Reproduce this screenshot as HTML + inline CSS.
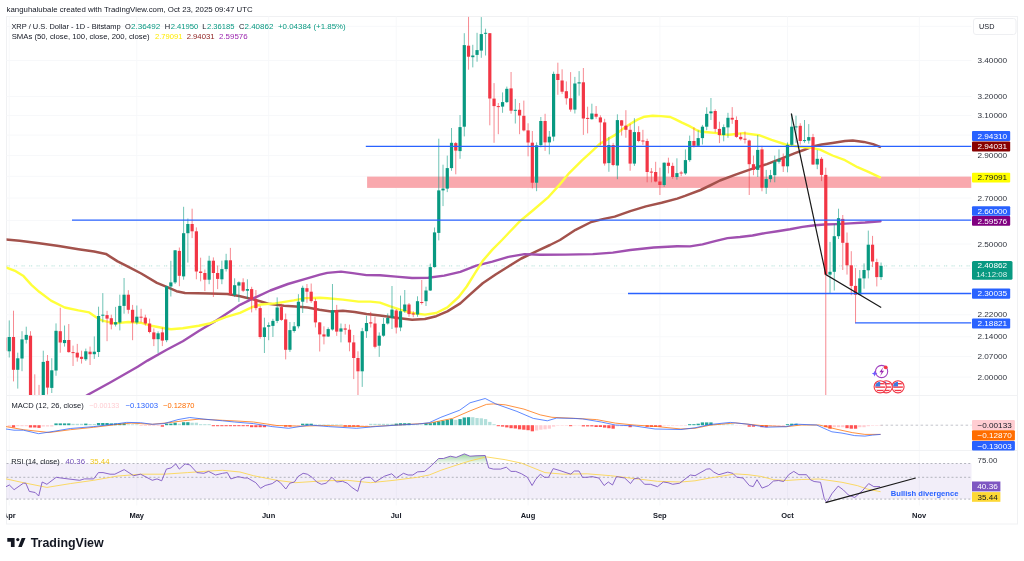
<!DOCTYPE html>
<html><head><meta charset="utf-8"><style>
html,body{margin:0;padding:0;background:#fff;width:1024px;height:561px;overflow:hidden}
svg{display:block;will-change:transform}
text{font-family:"Liberation Sans", sans-serif}
</style></head><body>
<svg width="1024" height="561" viewBox="0 0 1024 561">
<rect x="6.5" y="16.5" width="1011.0" height="507.5" fill="none" stroke="#F0F1F3" stroke-width="1"/>
<line x1="9.2" y1="16.5" x2="9.2" y2="505.5" stroke="#F7F8FA" stroke-width="1"/>
<line x1="136.8" y1="16.5" x2="136.8" y2="505.5" stroke="#F7F8FA" stroke-width="1"/>
<line x1="268.7" y1="16.5" x2="268.7" y2="505.5" stroke="#F7F8FA" stroke-width="1"/>
<line x1="396.2" y1="16.5" x2="396.2" y2="505.5" stroke="#F7F8FA" stroke-width="1"/>
<line x1="528.1" y1="16.5" x2="528.1" y2="505.5" stroke="#F7F8FA" stroke-width="1"/>
<line x1="659.9" y1="16.5" x2="659.9" y2="505.5" stroke="#F7F8FA" stroke-width="1"/>
<line x1="787.5" y1="16.5" x2="787.5" y2="505.5" stroke="#F7F8FA" stroke-width="1"/>
<line x1="919.3" y1="16.5" x2="919.3" y2="505.5" stroke="#F7F8FA" stroke-width="1"/>
<line x1="6.5" y1="26.3" x2="971.5" y2="26.3" stroke="#F7F8FA" stroke-width="1"/>
<line x1="6.5" y1="60.5" x2="971.5" y2="60.5" stroke="#F7F8FA" stroke-width="1"/>
<line x1="6.5" y1="96.6" x2="971.5" y2="96.6" stroke="#F7F8FA" stroke-width="1"/>
<line x1="6.5" y1="115.6" x2="971.5" y2="115.6" stroke="#F7F8FA" stroke-width="1"/>
<line x1="6.5" y1="135.1" x2="971.5" y2="135.1" stroke="#F7F8FA" stroke-width="1"/>
<line x1="6.5" y1="155.4" x2="971.5" y2="155.4" stroke="#F7F8FA" stroke-width="1"/>
<line x1="6.5" y1="176.3" x2="971.5" y2="176.3" stroke="#F7F8FA" stroke-width="1"/>
<line x1="6.5" y1="198.0" x2="971.5" y2="198.0" stroke="#F7F8FA" stroke-width="1"/>
<line x1="6.5" y1="220.6" x2="971.5" y2="220.6" stroke="#F7F8FA" stroke-width="1"/>
<line x1="6.5" y1="244.0" x2="971.5" y2="244.0" stroke="#F7F8FA" stroke-width="1"/>
<line x1="6.5" y1="268.3" x2="971.5" y2="268.3" stroke="#F7F8FA" stroke-width="1"/>
<line x1="6.5" y1="293.7" x2="971.5" y2="293.7" stroke="#F7F8FA" stroke-width="1"/>
<line x1="6.5" y1="314.8" x2="971.5" y2="314.8" stroke="#F7F8FA" stroke-width="1"/>
<line x1="6.5" y1="336.8" x2="971.5" y2="336.8" stroke="#F7F8FA" stroke-width="1"/>
<line x1="6.5" y1="356.6" x2="971.5" y2="356.6" stroke="#F7F8FA" stroke-width="1"/>
<line x1="6.5" y1="377.1" x2="971.5" y2="377.1" stroke="#F7F8FA" stroke-width="1"/>
<line x1="6.5" y1="395.5" x2="1017.5" y2="395.5" stroke="#F1F2F4" stroke-width="1"/>
<line x1="6.5" y1="450.5" x2="1017.5" y2="450.5" stroke="#F1F2F4" stroke-width="1"/>
<clipPath id="cm"><rect x="6.5" y="16.5" width="965.0" height="378.5"/></clipPath>
<g clip-path="url(#cm)">
<rect x="367.1" y="176.6" width="604.4" height="11.3" fill="#F9A8AD"/>
<line x1="6.5" y1="265.9" x2="971.5" y2="265.9" stroke="#089981" stroke-opacity="0.3" stroke-width="1" stroke-dasharray="1.2 0.8 1.2 4.3"/>
<polyline points="5.9,239.4 19.6,240.8 39.2,243.3 58.8,246.1 78.4,249.2 94.1,251.6 105.9,253.9 117.6,261.4 127.5,266.3 141.2,273.5 156.9,282.9 166.7,286.9 176.5,291.2 185.0,292.9 209.6,293.6 227.3,294.0 239.0,296.0 254.7,299.7 268.4,303.7 284.1,305.7 295.9,306.6 307.6,307.6 319.4,309.8 331.2,311.4 342.9,310.8 354.7,312.0 366.5,313.9 380.0,315.4 396.0,317.8 412.1,319.8 424.9,319.0 436.2,316.2 447.4,311.4 460.3,303.4 469.9,294.6 482.7,283.3 495.6,274.5 508.4,266.5 521.3,258.5 540.0,249.6 550.0,245.0 560.0,240.0 575.6,229.8 591.2,222.0 603.8,218.9 614.7,216.6 630.3,211.1 645.9,206.4 661.6,202.8 677.2,198.6 685.0,195.9 700.6,190.0 710.0,185.5 720.0,180.5 735.6,174.7 751.2,169.1 766.9,164.1 782.5,158.1 795.0,153.1 804.4,149.7 813.8,146.1 821.6,144.5 832.5,143.0 845.0,141.1 852.8,140.6 863.8,141.9 873.1,144.1 880.0,146.9" fill="none" stroke="#A3524C" stroke-width="2.5" stroke-linejoin="round" stroke-linecap="round"/>
<polyline points="86.0,396.0 88.3,394.5 110.6,382.3 137.7,366.7 147.5,360.6 166.7,349.7 182.8,341.2 198.8,331.0 214.9,321.4 240.0,304.8 252.7,298.7 270.3,290.5 287.9,284.0 305.5,278.8 320.0,274.6 327.3,272.9 341.0,271.6 352.7,273.1 366.5,275.1 380.0,275.3 396.0,276.6 412.1,278.0 428.2,277.7 444.2,275.6 460.3,271.8 476.3,265.7 492.4,261.7 508.4,256.9 524.5,254.1 540.0,254.8 565.4,254.6 592.8,254.1 612.8,252.6 630.3,250.0 653.8,247.5 677.2,246.2 690.0,246.4 702.5,244.4 715.0,241.2 727.5,238.1 740.0,237.0 752.5,235.5 765.0,233.1 777.5,231.2 790.0,229.2 802.5,226.9 815.0,225.3 824.4,224.5 836.9,224.1 850.0,223.4 865.0,222.5 880.5,221.2" fill="none" stroke="#A050B0" stroke-width="2.4" stroke-linejoin="round" stroke-linecap="round"/>
<polyline points="5.9,267.3 15.7,271.2 23.5,276.1 31.4,284.9 39.2,291.8 51.0,300.6 64.7,307.5 78.4,310.4 89.2,312.4 96.1,317.3 102.5,320.7 114.7,323.4 128.2,322.0 140.4,322.7 151.2,325.7 164.6,328.3 171.0,329.2 182.8,328.3 198.8,325.7 209.5,323.5 225.6,317.1 240.0,312.8 252.7,306.9 260.9,304.5 275.0,303.4 293.8,300.4 305.5,298.1 320.0,297.7 327.3,298.3 342.9,299.6 358.6,301.6 370.4,301.6 380.0,302.6 389.6,306.1 400.9,309.8 412.1,313.0 424.9,314.6 436.2,313.0 447.4,307.4 458.7,297.0 466.7,286.5 474.7,273.7 482.7,260.9 492.4,249.6 502.0,240.0 509.8,231.7 520.0,221.2 532.8,210.5 547.8,197.7 558.5,185.9 569.2,173.1 582.0,160.3 592.7,150.6 600.0,143.7 607.0,139.6 615.2,134.9 623.4,128.4 630.5,123.8 637.5,119.6 644.5,116.7 652.7,115.8 660.9,116.1 670.3,117.0 675.0,119.1 682.0,122.6 689.0,125.9 696.1,129.8 700.8,131.7 707.8,132.2 717.2,133.1 720.0,134.4 729.4,134.7 743.4,133.1 759.0,135.2 771.6,139.8 785.6,144.5 798.1,146.6 810.6,147.7 820.0,149.7 832.5,155.5 845.0,160.2 857.5,167.2 868.4,171.9 880.0,177.3" fill="none" stroke="#FFFF3A" stroke-width="2.4" stroke-linejoin="round" stroke-linecap="round"/>
<line x1="5.00" y1="335.0" x2="5.00" y2="352.0" stroke="#F23645" stroke-opacity="0.62" stroke-width="0.95"/>
<rect x="3.40" y="337.4" width="3.2" height="13.3" fill="#F23645"/>
<line x1="9.25" y1="320.4" x2="9.25" y2="357.5" stroke="#089981" stroke-opacity="0.62" stroke-width="0.95"/>
<rect x="7.65" y="337.0" width="3.2" height="14.3" fill="#089981"/>
<line x1="13.50" y1="310.7" x2="13.50" y2="381.4" stroke="#F23645" stroke-opacity="0.62" stroke-width="0.95"/>
<rect x="11.90" y="337.0" width="3.2" height="32.8" fill="#F23645"/>
<line x1="17.76" y1="352.7" x2="17.76" y2="388.6" stroke="#089981" stroke-opacity="0.62" stroke-width="0.95"/>
<rect x="16.16" y="358.3" width="3.2" height="11.5" fill="#089981"/>
<line x1="22.01" y1="331.2" x2="22.01" y2="371.2" stroke="#089981" stroke-opacity="0.62" stroke-width="0.95"/>
<rect x="20.41" y="339.4" width="3.2" height="19.1" fill="#089981"/>
<line x1="26.26" y1="326.7" x2="26.26" y2="343.5" stroke="#089981" stroke-opacity="0.62" stroke-width="0.95"/>
<rect x="24.66" y="334.9" width="3.2" height="4.9" fill="#089981"/>
<line x1="30.51" y1="331.2" x2="30.51" y2="400.0" stroke="#F23645" stroke-opacity="0.62" stroke-width="0.95"/>
<rect x="28.91" y="335.7" width="3.2" height="64.3" fill="#F23645"/>
<line x1="34.77" y1="374.3" x2="34.77" y2="420.0" stroke="#F23645" stroke-opacity="0.62" stroke-width="0.95"/>
<rect x="33.17" y="398.0" width="3.2" height="22.0" fill="#F23645"/>
<line x1="39.02" y1="384.9" x2="39.02" y2="420.0" stroke="#F23645" stroke-opacity="0.62" stroke-width="0.95"/>
<rect x="37.42" y="398.0" width="3.2" height="22.0" fill="#F23645"/>
<line x1="43.27" y1="350.7" x2="43.27" y2="400.0" stroke="#089981" stroke-opacity="0.62" stroke-width="0.95"/>
<rect x="41.67" y="361.9" width="3.2" height="38.1" fill="#089981"/>
<line x1="47.52" y1="355.0" x2="47.52" y2="394.5" stroke="#F23645" stroke-opacity="0.62" stroke-width="0.95"/>
<rect x="45.92" y="360.9" width="3.2" height="26.7" fill="#F23645"/>
<line x1="51.78" y1="358.2" x2="51.78" y2="393.0" stroke="#089981" stroke-opacity="0.62" stroke-width="0.95"/>
<rect x="50.18" y="370.3" width="3.2" height="17.6" fill="#089981"/>
<line x1="56.03" y1="323.4" x2="56.03" y2="375.8" stroke="#089981" stroke-opacity="0.62" stroke-width="0.95"/>
<rect x="54.43" y="330.8" width="3.2" height="39.7" fill="#089981"/>
<line x1="60.28" y1="307.7" x2="60.28" y2="352.7" stroke="#F23645" stroke-opacity="0.62" stroke-width="0.95"/>
<rect x="58.68" y="331.2" width="3.2" height="11.3" fill="#F23645"/>
<line x1="64.54" y1="325.5" x2="64.54" y2="346.6" stroke="#089981" stroke-opacity="0.62" stroke-width="0.95"/>
<rect x="62.94" y="340.0" width="3.2" height="3.1" fill="#089981"/>
<line x1="68.79" y1="324.0" x2="68.79" y2="352.7" stroke="#F23645" stroke-opacity="0.62" stroke-width="0.95"/>
<rect x="67.19" y="340.0" width="3.2" height="12.1" fill="#F23645"/>
<line x1="73.04" y1="345.6" x2="73.04" y2="366.0" stroke="#F23645" stroke-opacity="0.62" stroke-width="0.95"/>
<rect x="71.44" y="352.1" width="3.2" height="1.0" fill="#F23645"/>
<line x1="77.29" y1="343.9" x2="77.29" y2="361.6" stroke="#F23645" stroke-opacity="0.62" stroke-width="0.95"/>
<rect x="75.69" y="352.7" width="3.2" height="4.8" fill="#F23645"/>
<line x1="81.55" y1="350.7" x2="81.55" y2="363.6" stroke="#F23645" stroke-opacity="0.62" stroke-width="0.95"/>
<rect x="79.95" y="356.8" width="3.2" height="2.1" fill="#F23645"/>
<line x1="85.80" y1="348.6" x2="85.80" y2="361.0" stroke="#089981" stroke-opacity="0.62" stroke-width="0.95"/>
<rect x="84.20" y="351.3" width="3.2" height="8.0" fill="#089981"/>
<line x1="90.05" y1="346.6" x2="90.05" y2="365.0" stroke="#F23645" stroke-opacity="0.62" stroke-width="0.95"/>
<rect x="88.45" y="351.7" width="3.2" height="2.5" fill="#F23645"/>
<line x1="94.30" y1="336.4" x2="94.30" y2="358.9" stroke="#089981" stroke-opacity="0.62" stroke-width="0.95"/>
<rect x="92.70" y="351.7" width="3.2" height="2.5" fill="#089981"/>
<line x1="98.56" y1="306.7" x2="98.56" y2="357.0" stroke="#089981" stroke-opacity="0.62" stroke-width="0.95"/>
<rect x="96.96" y="316.0" width="3.2" height="36.0" fill="#089981"/>
<line x1="102.81" y1="293.1" x2="102.81" y2="322.5" stroke="#089981" stroke-opacity="0.62" stroke-width="0.95"/>
<rect x="101.21" y="314.7" width="3.2" height="1.0" fill="#089981"/>
<line x1="107.06" y1="310.8" x2="107.06" y2="341.2" stroke="#F23645" stroke-opacity="0.62" stroke-width="0.95"/>
<rect x="105.46" y="315.1" width="3.2" height="3.5" fill="#F23645"/>
<line x1="111.31" y1="314.7" x2="111.31" y2="329.4" stroke="#F23645" stroke-opacity="0.62" stroke-width="0.95"/>
<rect x="109.71" y="318.2" width="3.2" height="6.3" fill="#F23645"/>
<line x1="115.57" y1="306.9" x2="115.57" y2="326.5" stroke="#089981" stroke-opacity="0.62" stroke-width="0.95"/>
<rect x="113.97" y="322.2" width="3.2" height="2.3" fill="#089981"/>
<line x1="119.82" y1="294.7" x2="119.82" y2="330.4" stroke="#089981" stroke-opacity="0.62" stroke-width="0.95"/>
<rect x="118.22" y="305.9" width="3.2" height="16.6" fill="#089981"/>
<line x1="124.07" y1="278.0" x2="124.07" y2="313.7" stroke="#089981" stroke-opacity="0.62" stroke-width="0.95"/>
<rect x="122.47" y="294.7" width="3.2" height="11.2" fill="#089981"/>
<line x1="128.33" y1="290.2" x2="128.33" y2="313.7" stroke="#F23645" stroke-opacity="0.62" stroke-width="0.95"/>
<rect x="126.73" y="294.7" width="3.2" height="15.1" fill="#F23645"/>
<line x1="132.58" y1="304.9" x2="132.58" y2="340.2" stroke="#F23645" stroke-opacity="0.62" stroke-width="0.95"/>
<rect x="130.98" y="309.8" width="3.2" height="12.7" fill="#F23645"/>
<line x1="136.83" y1="305.5" x2="136.83" y2="324.5" stroke="#089981" stroke-opacity="0.62" stroke-width="0.95"/>
<rect x="135.23" y="316.7" width="3.2" height="5.8" fill="#089981"/>
<line x1="141.08" y1="308.8" x2="141.08" y2="322.5" stroke="#F23645" stroke-opacity="0.62" stroke-width="0.95"/>
<rect x="139.48" y="316.7" width="3.2" height="1.0" fill="#F23645"/>
<line x1="145.34" y1="314.7" x2="145.34" y2="325.5" stroke="#F23645" stroke-opacity="0.62" stroke-width="0.95"/>
<rect x="143.74" y="317.6" width="3.2" height="5.9" fill="#F23645"/>
<line x1="149.59" y1="318.6" x2="149.59" y2="333.3" stroke="#F23645" stroke-opacity="0.62" stroke-width="0.95"/>
<rect x="147.99" y="323.5" width="3.2" height="8.5" fill="#F23645"/>
<line x1="153.84" y1="328.4" x2="153.84" y2="346.1" stroke="#F23645" stroke-opacity="0.62" stroke-width="0.95"/>
<rect x="152.24" y="332.4" width="3.2" height="6.8" fill="#F23645"/>
<line x1="158.09" y1="331.4" x2="158.09" y2="352.9" stroke="#089981" stroke-opacity="0.62" stroke-width="0.95"/>
<rect x="156.49" y="333.3" width="3.2" height="5.9" fill="#089981"/>
<line x1="162.35" y1="327.5" x2="162.35" y2="346.1" stroke="#F23645" stroke-opacity="0.62" stroke-width="0.95"/>
<rect x="160.75" y="332.4" width="3.2" height="8.2" fill="#F23645"/>
<line x1="166.60" y1="286.0" x2="166.60" y2="342.2" stroke="#089981" stroke-opacity="0.62" stroke-width="0.95"/>
<rect x="165.00" y="286.3" width="3.2" height="53.9" fill="#089981"/>
<line x1="170.85" y1="260.8" x2="170.85" y2="296.5" stroke="#089981" stroke-opacity="0.62" stroke-width="0.95"/>
<rect x="169.25" y="282.4" width="3.2" height="4.1" fill="#089981"/>
<line x1="175.11" y1="250.0" x2="175.11" y2="284.0" stroke="#089981" stroke-opacity="0.62" stroke-width="0.95"/>
<rect x="173.51" y="250.3" width="3.2" height="32.1" fill="#089981"/>
<line x1="179.36" y1="247.5" x2="179.36" y2="286.2" stroke="#F23645" stroke-opacity="0.62" stroke-width="0.95"/>
<rect x="177.76" y="250.9" width="3.2" height="24.9" fill="#F23645"/>
<line x1="183.61" y1="206.8" x2="183.61" y2="279.7" stroke="#089981" stroke-opacity="0.62" stroke-width="0.95"/>
<rect x="182.01" y="233.2" width="3.2" height="43.2" fill="#089981"/>
<line x1="187.86" y1="218.5" x2="187.86" y2="262.6" stroke="#089981" stroke-opacity="0.62" stroke-width="0.95"/>
<rect x="186.26" y="224.0" width="3.2" height="9.2" fill="#089981"/>
<line x1="192.12" y1="208.7" x2="192.12" y2="238.1" stroke="#F23645" stroke-opacity="0.62" stroke-width="0.95"/>
<rect x="190.52" y="224.0" width="3.2" height="7.3" fill="#F23645"/>
<line x1="196.37" y1="227.4" x2="196.37" y2="279.3" stroke="#F23645" stroke-opacity="0.62" stroke-width="0.95"/>
<rect x="194.77" y="231.3" width="3.2" height="40.2" fill="#F23645"/>
<line x1="200.62" y1="257.7" x2="200.62" y2="281.3" stroke="#F23645" stroke-opacity="0.62" stroke-width="0.95"/>
<rect x="199.02" y="271.5" width="3.2" height="1.5" fill="#F23645"/>
<line x1="204.87" y1="269.5" x2="204.87" y2="291.1" stroke="#F23645" stroke-opacity="0.62" stroke-width="0.95"/>
<rect x="203.27" y="273.0" width="3.2" height="6.7" fill="#F23645"/>
<line x1="209.13" y1="255.8" x2="209.13" y2="284.2" stroke="#089981" stroke-opacity="0.62" stroke-width="0.95"/>
<rect x="207.53" y="260.7" width="3.2" height="19.0" fill="#089981"/>
<line x1="213.38" y1="257.4" x2="213.38" y2="297.0" stroke="#F23645" stroke-opacity="0.62" stroke-width="0.95"/>
<rect x="211.78" y="260.7" width="3.2" height="12.3" fill="#F23645"/>
<line x1="217.63" y1="265.6" x2="217.63" y2="289.1" stroke="#F23645" stroke-opacity="0.62" stroke-width="0.95"/>
<rect x="216.03" y="273.0" width="3.2" height="5.9" fill="#F23645"/>
<line x1="221.88" y1="260.7" x2="221.88" y2="284.2" stroke="#089981" stroke-opacity="0.62" stroke-width="0.95"/>
<rect x="220.28" y="269.1" width="3.2" height="10.2" fill="#089981"/>
<line x1="226.14" y1="253.8" x2="226.14" y2="271.5" stroke="#089981" stroke-opacity="0.62" stroke-width="0.95"/>
<rect x="224.54" y="260.3" width="3.2" height="8.8" fill="#089981"/>
<line x1="230.39" y1="247.9" x2="230.39" y2="296.0" stroke="#F23645" stroke-opacity="0.62" stroke-width="0.95"/>
<rect x="228.79" y="260.3" width="3.2" height="33.7" fill="#F23645"/>
<line x1="234.64" y1="278.3" x2="234.64" y2="297.0" stroke="#089981" stroke-opacity="0.62" stroke-width="0.95"/>
<rect x="233.04" y="285.2" width="3.2" height="9.8" fill="#089981"/>
<line x1="238.90" y1="281.3" x2="238.90" y2="301.9" stroke="#089981" stroke-opacity="0.62" stroke-width="0.95"/>
<rect x="237.30" y="282.3" width="3.2" height="3.3" fill="#089981"/>
<line x1="243.15" y1="278.3" x2="243.15" y2="292.1" stroke="#F23645" stroke-opacity="0.62" stroke-width="0.95"/>
<rect x="241.55" y="282.3" width="3.2" height="8.4" fill="#F23645"/>
<line x1="247.40" y1="279.3" x2="247.40" y2="298.9" stroke="#089981" stroke-opacity="0.62" stroke-width="0.95"/>
<rect x="245.80" y="289.1" width="3.2" height="1.6" fill="#089981"/>
<line x1="251.65" y1="286.8" x2="251.65" y2="312.4" stroke="#F23645" stroke-opacity="0.62" stroke-width="0.95"/>
<rect x="250.05" y="289.1" width="3.2" height="10.5" fill="#F23645"/>
<line x1="255.91" y1="290.0" x2="255.91" y2="310.3" stroke="#F23645" stroke-opacity="0.62" stroke-width="0.95"/>
<rect x="254.31" y="299.6" width="3.2" height="8.5" fill="#F23645"/>
<line x1="260.16" y1="306.0" x2="260.16" y2="338.7" stroke="#F23645" stroke-opacity="0.62" stroke-width="0.95"/>
<rect x="258.56" y="308.1" width="3.2" height="28.9" fill="#F23645"/>
<line x1="264.41" y1="317.7" x2="264.41" y2="353.0" stroke="#089981" stroke-opacity="0.62" stroke-width="0.95"/>
<rect x="262.81" y="327.4" width="3.2" height="9.6" fill="#089981"/>
<line x1="268.66" y1="322.4" x2="268.66" y2="340.2" stroke="#089981" stroke-opacity="0.62" stroke-width="0.95"/>
<rect x="267.06" y="325.2" width="3.2" height="1.5" fill="#089981"/>
<line x1="272.92" y1="318.8" x2="272.92" y2="337.0" stroke="#089981" stroke-opacity="0.62" stroke-width="0.95"/>
<rect x="271.32" y="320.9" width="3.2" height="5.0" fill="#089981"/>
<line x1="277.17" y1="297.4" x2="277.17" y2="323.1" stroke="#089981" stroke-opacity="0.62" stroke-width="0.95"/>
<rect x="275.57" y="307.5" width="3.2" height="13.4" fill="#089981"/>
<line x1="281.42" y1="303.8" x2="281.42" y2="320.9" stroke="#F23645" stroke-opacity="0.62" stroke-width="0.95"/>
<rect x="279.82" y="307.1" width="3.2" height="12.8" fill="#F23645"/>
<line x1="285.68" y1="313.5" x2="285.68" y2="359.4" stroke="#F23645" stroke-opacity="0.62" stroke-width="0.95"/>
<rect x="284.08" y="319.4" width="3.2" height="30.4" fill="#F23645"/>
<line x1="289.93" y1="322.0" x2="289.93" y2="351.9" stroke="#089981" stroke-opacity="0.62" stroke-width="0.95"/>
<rect x="288.33" y="330.1" width="3.2" height="19.7" fill="#089981"/>
<line x1="294.18" y1="322.0" x2="294.18" y2="332.7" stroke="#089981" stroke-opacity="0.62" stroke-width="0.95"/>
<rect x="292.58" y="326.3" width="3.2" height="4.7" fill="#089981"/>
<line x1="298.43" y1="294.2" x2="298.43" y2="328.4" stroke="#089981" stroke-opacity="0.62" stroke-width="0.95"/>
<rect x="296.83" y="301.7" width="3.2" height="24.6" fill="#089981"/>
<line x1="302.69" y1="285.7" x2="302.69" y2="313.0" stroke="#089981" stroke-opacity="0.62" stroke-width="0.95"/>
<rect x="301.09" y="287.8" width="3.2" height="13.9" fill="#089981"/>
<line x1="306.94" y1="284.0" x2="306.94" y2="302.8" stroke="#F23645" stroke-opacity="0.62" stroke-width="0.95"/>
<rect x="305.34" y="288.2" width="3.2" height="3.5" fill="#F23645"/>
<line x1="311.19" y1="283.5" x2="311.19" y2="302.8" stroke="#F23645" stroke-opacity="0.62" stroke-width="0.95"/>
<rect x="309.59" y="291.7" width="3.2" height="9.4" fill="#F23645"/>
<line x1="315.44" y1="298.5" x2="315.44" y2="327.4" stroke="#F23645" stroke-opacity="0.62" stroke-width="0.95"/>
<rect x="313.84" y="301.1" width="3.2" height="21.3" fill="#F23645"/>
<line x1="319.70" y1="322.0" x2="319.70" y2="351.5" stroke="#F23645" stroke-opacity="0.62" stroke-width="0.95"/>
<rect x="318.10" y="322.4" width="3.2" height="12.0" fill="#F23645"/>
<line x1="323.95" y1="326.3" x2="323.95" y2="344.4" stroke="#F23645" stroke-opacity="0.62" stroke-width="0.95"/>
<rect x="322.35" y="334.4" width="3.2" height="2.1" fill="#F23645"/>
<line x1="328.20" y1="327.4" x2="328.20" y2="337.0" stroke="#089981" stroke-opacity="0.62" stroke-width="0.95"/>
<rect x="326.60" y="329.1" width="3.2" height="7.4" fill="#089981"/>
<line x1="332.46" y1="284.0" x2="332.46" y2="330.6" stroke="#089981" stroke-opacity="0.62" stroke-width="0.95"/>
<rect x="330.86" y="310.3" width="3.2" height="19.2" fill="#089981"/>
<line x1="336.71" y1="304.9" x2="336.71" y2="335.9" stroke="#F23645" stroke-opacity="0.62" stroke-width="0.95"/>
<rect x="335.11" y="310.3" width="3.2" height="21.3" fill="#F23645"/>
<line x1="340.96" y1="323.5" x2="340.96" y2="342.4" stroke="#089981" stroke-opacity="0.62" stroke-width="0.95"/>
<rect x="339.36" y="328.4" width="3.2" height="3.2" fill="#089981"/>
<line x1="345.21" y1="323.9" x2="345.21" y2="334.6" stroke="#F23645" stroke-opacity="0.62" stroke-width="0.95"/>
<rect x="343.61" y="328.4" width="3.2" height="1.3" fill="#F23645"/>
<line x1="349.47" y1="324.6" x2="349.47" y2="351.3" stroke="#F23645" stroke-opacity="0.62" stroke-width="0.95"/>
<rect x="347.87" y="329.7" width="3.2" height="12.7" fill="#F23645"/>
<line x1="353.72" y1="335.0" x2="353.72" y2="379.1" stroke="#F23645" stroke-opacity="0.62" stroke-width="0.95"/>
<rect x="352.12" y="342.4" width="3.2" height="15.6" fill="#F23645"/>
<line x1="357.97" y1="351.3" x2="357.97" y2="395.0" stroke="#F23645" stroke-opacity="0.62" stroke-width="0.95"/>
<rect x="356.37" y="358.0" width="3.2" height="13.3" fill="#F23645"/>
<line x1="362.22" y1="327.9" x2="362.22" y2="386.9" stroke="#089981" stroke-opacity="0.62" stroke-width="0.95"/>
<rect x="360.62" y="331.2" width="3.2" height="40.1" fill="#089981"/>
<line x1="366.48" y1="315.7" x2="366.48" y2="337.9" stroke="#089981" stroke-opacity="0.62" stroke-width="0.95"/>
<rect x="364.88" y="323.0" width="3.2" height="8.2" fill="#089981"/>
<line x1="370.73" y1="311.9" x2="370.73" y2="327.5" stroke="#F23645" stroke-opacity="0.62" stroke-width="0.95"/>
<rect x="369.13" y="322.3" width="3.2" height="1.2" fill="#F23645"/>
<line x1="374.98" y1="316.8" x2="374.98" y2="348.4" stroke="#F23645" stroke-opacity="0.62" stroke-width="0.95"/>
<rect x="373.38" y="323.5" width="3.2" height="23.3" fill="#F23645"/>
<line x1="379.23" y1="332.4" x2="379.23" y2="356.9" stroke="#089981" stroke-opacity="0.62" stroke-width="0.95"/>
<rect x="377.63" y="335.7" width="3.2" height="10.0" fill="#089981"/>
<line x1="383.49" y1="317.9" x2="383.49" y2="336.8" stroke="#089981" stroke-opacity="0.62" stroke-width="0.95"/>
<rect x="381.89" y="323.9" width="3.2" height="11.8" fill="#089981"/>
<line x1="387.74" y1="313.4" x2="387.74" y2="324.6" stroke="#089981" stroke-opacity="0.62" stroke-width="0.95"/>
<rect x="386.14" y="317.9" width="3.2" height="5.6" fill="#089981"/>
<line x1="391.99" y1="286.0" x2="391.99" y2="329.0" stroke="#089981" stroke-opacity="0.62" stroke-width="0.95"/>
<rect x="390.39" y="309.6" width="3.2" height="8.3" fill="#089981"/>
<line x1="396.25" y1="309.0" x2="396.25" y2="333.5" stroke="#F23645" stroke-opacity="0.62" stroke-width="0.95"/>
<rect x="394.65" y="310.5" width="3.2" height="17.0" fill="#F23645"/>
<line x1="400.50" y1="295.6" x2="400.50" y2="331.2" stroke="#089981" stroke-opacity="0.62" stroke-width="0.95"/>
<rect x="398.90" y="311.2" width="3.2" height="16.3" fill="#089981"/>
<line x1="404.75" y1="290.0" x2="404.75" y2="312.8" stroke="#089981" stroke-opacity="0.62" stroke-width="0.95"/>
<rect x="403.15" y="304.5" width="3.2" height="6.7" fill="#089981"/>
<line x1="409.00" y1="303.0" x2="409.00" y2="316.8" stroke="#F23645" stroke-opacity="0.62" stroke-width="0.95"/>
<rect x="407.40" y="304.5" width="3.2" height="9.6" fill="#F23645"/>
<line x1="413.26" y1="311.2" x2="413.26" y2="317.2" stroke="#F23645" stroke-opacity="0.62" stroke-width="0.95"/>
<rect x="411.66" y="313.4" width="3.2" height="1.1" fill="#F23645"/>
<line x1="417.51" y1="296.3" x2="417.51" y2="316.8" stroke="#089981" stroke-opacity="0.62" stroke-width="0.95"/>
<rect x="415.91" y="301.2" width="3.2" height="13.3" fill="#089981"/>
<line x1="421.76" y1="280.0" x2="421.76" y2="304.5" stroke="#F23645" stroke-opacity="0.62" stroke-width="0.95"/>
<rect x="420.16" y="302.0" width="3.2" height="1.0" fill="#F23645"/>
<line x1="426.01" y1="286.7" x2="426.01" y2="306.0" stroke="#089981" stroke-opacity="0.62" stroke-width="0.95"/>
<rect x="424.41" y="290.5" width="3.2" height="10.7" fill="#089981"/>
<line x1="430.27" y1="263.6" x2="430.27" y2="291.0" stroke="#089981" stroke-opacity="0.62" stroke-width="0.95"/>
<rect x="428.67" y="267.1" width="3.2" height="23.4" fill="#089981"/>
<line x1="434.52" y1="227.5" x2="434.52" y2="267.6" stroke="#089981" stroke-opacity="0.62" stroke-width="0.95"/>
<rect x="432.92" y="232.4" width="3.2" height="34.7" fill="#089981"/>
<line x1="438.77" y1="138.7" x2="438.77" y2="240.4" stroke="#089981" stroke-opacity="0.62" stroke-width="0.95"/>
<rect x="437.17" y="190.4" width="3.2" height="42.5" fill="#089981"/>
<line x1="443.03" y1="164.7" x2="443.03" y2="206.1" stroke="#089981" stroke-opacity="0.62" stroke-width="0.95"/>
<rect x="441.43" y="188.6" width="3.2" height="1.8" fill="#089981"/>
<line x1="447.28" y1="155.6" x2="447.28" y2="192.1" stroke="#089981" stroke-opacity="0.62" stroke-width="0.95"/>
<rect x="445.68" y="168.1" width="3.2" height="20.5" fill="#089981"/>
<line x1="451.53" y1="128.0" x2="451.53" y2="170.8" stroke="#089981" stroke-opacity="0.62" stroke-width="0.95"/>
<rect x="449.93" y="142.8" width="3.2" height="25.3" fill="#089981"/>
<line x1="455.78" y1="142.0" x2="455.78" y2="174.3" stroke="#F23645" stroke-opacity="0.62" stroke-width="0.95"/>
<rect x="454.18" y="143.1" width="3.2" height="7.5" fill="#F23645"/>
<line x1="460.04" y1="115.0" x2="460.04" y2="158.8" stroke="#089981" stroke-opacity="0.62" stroke-width="0.95"/>
<rect x="458.44" y="127.1" width="3.2" height="24.0" fill="#089981"/>
<line x1="464.29" y1="33.2" x2="464.29" y2="136.4" stroke="#089981" stroke-opacity="0.62" stroke-width="0.95"/>
<rect x="462.69" y="45.1" width="3.2" height="81.6" fill="#089981"/>
<line x1="468.54" y1="16.8" x2="468.54" y2="69.7" stroke="#F23645" stroke-opacity="0.62" stroke-width="0.95"/>
<rect x="466.94" y="45.7" width="3.2" height="11.0" fill="#F23645"/>
<line x1="472.79" y1="44.8" x2="472.79" y2="67.4" stroke="#089981" stroke-opacity="0.62" stroke-width="0.95"/>
<rect x="471.19" y="55.5" width="3.2" height="1.7" fill="#089981"/>
<line x1="477.05" y1="32.8" x2="477.05" y2="61.7" stroke="#089981" stroke-opacity="0.62" stroke-width="0.95"/>
<rect x="475.45" y="50.1" width="3.2" height="4.8" fill="#089981"/>
<line x1="481.30" y1="17.1" x2="481.30" y2="57.8" stroke="#089981" stroke-opacity="0.62" stroke-width="0.95"/>
<rect x="479.70" y="34.1" width="3.2" height="16.5" fill="#089981"/>
<line x1="485.55" y1="28.7" x2="485.55" y2="55.5" stroke="#089981" stroke-opacity="0.62" stroke-width="0.95"/>
<rect x="483.95" y="32.8" width="3.2" height="1.0" fill="#089981"/>
<line x1="489.81" y1="33.0" x2="489.81" y2="125.3" stroke="#F23645" stroke-opacity="0.62" stroke-width="0.95"/>
<rect x="488.21" y="33.2" width="3.2" height="65.3" fill="#F23645"/>
<line x1="494.06" y1="83.1" x2="494.06" y2="142.8" stroke="#F23645" stroke-opacity="0.62" stroke-width="0.95"/>
<rect x="492.46" y="98.6" width="3.2" height="7.5" fill="#F23645"/>
<line x1="498.31" y1="103.0" x2="498.31" y2="134.2" stroke="#F23645" stroke-opacity="0.62" stroke-width="0.95"/>
<rect x="496.71" y="106.1" width="3.2" height="1.0" fill="#F23645"/>
<line x1="502.56" y1="92.4" x2="502.56" y2="112.8" stroke="#089981" stroke-opacity="0.62" stroke-width="0.95"/>
<rect x="500.96" y="102.1" width="3.2" height="4.5" fill="#089981"/>
<line x1="506.82" y1="86.6" x2="506.82" y2="103.0" stroke="#089981" stroke-opacity="0.62" stroke-width="0.95"/>
<rect x="505.22" y="88.8" width="3.2" height="13.3" fill="#089981"/>
<line x1="511.07" y1="72.0" x2="511.07" y2="113.7" stroke="#F23645" stroke-opacity="0.62" stroke-width="0.95"/>
<rect x="509.47" y="88.4" width="3.2" height="22.3" fill="#F23645"/>
<line x1="515.32" y1="98.9" x2="515.32" y2="123.5" stroke="#089981" stroke-opacity="0.62" stroke-width="0.95"/>
<rect x="513.72" y="109.8" width="3.2" height="1.0" fill="#089981"/>
<line x1="519.57" y1="103.0" x2="519.57" y2="134.2" stroke="#F23645" stroke-opacity="0.62" stroke-width="0.95"/>
<rect x="517.97" y="109.8" width="3.2" height="5.7" fill="#F23645"/>
<line x1="523.83" y1="100.6" x2="523.83" y2="131.4" stroke="#F23645" stroke-opacity="0.62" stroke-width="0.95"/>
<rect x="522.23" y="115.8" width="3.2" height="14.6" fill="#F23645"/>
<line x1="528.08" y1="123.3" x2="528.08" y2="156.3" stroke="#F23645" stroke-opacity="0.62" stroke-width="0.95"/>
<rect x="526.48" y="130.4" width="3.2" height="12.1" fill="#F23645"/>
<line x1="532.33" y1="131.0" x2="532.33" y2="188.4" stroke="#F23645" stroke-opacity="0.62" stroke-width="0.95"/>
<rect x="530.73" y="142.7" width="3.2" height="40.0" fill="#F23645"/>
<line x1="536.58" y1="142.4" x2="536.58" y2="191.2" stroke="#089981" stroke-opacity="0.62" stroke-width="0.95"/>
<rect x="534.98" y="145.3" width="3.2" height="37.4" fill="#089981"/>
<line x1="540.84" y1="117.0" x2="540.84" y2="147.3" stroke="#089981" stroke-opacity="0.62" stroke-width="0.95"/>
<rect x="539.24" y="121.0" width="3.2" height="24.2" fill="#089981"/>
<line x1="545.09" y1="113.8" x2="545.09" y2="150.9" stroke="#F23645" stroke-opacity="0.62" stroke-width="0.95"/>
<rect x="543.49" y="121.0" width="3.2" height="21.4" fill="#F23645"/>
<line x1="549.34" y1="131.0" x2="549.34" y2="154.4" stroke="#089981" stroke-opacity="0.62" stroke-width="0.95"/>
<rect x="547.74" y="136.7" width="3.2" height="5.7" fill="#089981"/>
<line x1="553.60" y1="71.6" x2="553.60" y2="141.2" stroke="#089981" stroke-opacity="0.62" stroke-width="0.95"/>
<rect x="552.00" y="73.9" width="3.2" height="62.7" fill="#089981"/>
<line x1="557.85" y1="62.7" x2="557.85" y2="94.8" stroke="#F23645" stroke-opacity="0.62" stroke-width="0.95"/>
<rect x="556.25" y="73.9" width="3.2" height="6.1" fill="#F23645"/>
<line x1="562.10" y1="69.3" x2="562.10" y2="93.9" stroke="#F23645" stroke-opacity="0.62" stroke-width="0.95"/>
<rect x="560.50" y="80.5" width="3.2" height="11.2" fill="#F23645"/>
<line x1="566.35" y1="81.4" x2="566.35" y2="104.6" stroke="#F23645" stroke-opacity="0.62" stroke-width="0.95"/>
<rect x="564.75" y="91.2" width="3.2" height="7.1" fill="#F23645"/>
<line x1="570.61" y1="72.1" x2="570.61" y2="111.7" stroke="#F23645" stroke-opacity="0.62" stroke-width="0.95"/>
<rect x="569.01" y="98.3" width="3.2" height="11.3" fill="#F23645"/>
<line x1="574.86" y1="76.9" x2="574.86" y2="113.5" stroke="#089981" stroke-opacity="0.62" stroke-width="0.95"/>
<rect x="573.26" y="83.5" width="3.2" height="26.1" fill="#089981"/>
<line x1="579.11" y1="71.1" x2="579.11" y2="95.7" stroke="#089981" stroke-opacity="0.62" stroke-width="0.95"/>
<rect x="577.51" y="82.3" width="3.2" height="1.2" fill="#089981"/>
<line x1="583.36" y1="68.0" x2="583.36" y2="134.9" stroke="#F23645" stroke-opacity="0.62" stroke-width="0.95"/>
<rect x="581.76" y="82.3" width="3.2" height="36.2" fill="#F23645"/>
<line x1="587.62" y1="106.7" x2="587.62" y2="133.4" stroke="#F23645" stroke-opacity="0.62" stroke-width="0.95"/>
<rect x="586.02" y="117.9" width="3.2" height="1.0" fill="#F23645"/>
<line x1="591.87" y1="103.7" x2="591.87" y2="119.7" stroke="#089981" stroke-opacity="0.62" stroke-width="0.95"/>
<rect x="590.27" y="113.5" width="3.2" height="5.7" fill="#089981"/>
<line x1="596.12" y1="106.0" x2="596.12" y2="118.8" stroke="#F23645" stroke-opacity="0.62" stroke-width="0.95"/>
<rect x="594.52" y="113.8" width="3.2" height="2.9" fill="#F23645"/>
<line x1="600.38" y1="115.3" x2="600.38" y2="145.6" stroke="#F23645" stroke-opacity="0.62" stroke-width="0.95"/>
<rect x="598.78" y="117.4" width="3.2" height="5.0" fill="#F23645"/>
<line x1="604.63" y1="118.8" x2="604.63" y2="165.6" stroke="#F23645" stroke-opacity="0.62" stroke-width="0.95"/>
<rect x="603.03" y="122.4" width="3.2" height="41.1" fill="#F23645"/>
<line x1="608.88" y1="136.9" x2="608.88" y2="171.8" stroke="#089981" stroke-opacity="0.62" stroke-width="0.95"/>
<rect x="607.28" y="145.0" width="3.2" height="18.1" fill="#089981"/>
<line x1="613.13" y1="142.9" x2="613.13" y2="166.2" stroke="#F23645" stroke-opacity="0.62" stroke-width="0.95"/>
<rect x="611.53" y="145.0" width="3.2" height="20.0" fill="#F23645"/>
<line x1="617.39" y1="114.3" x2="617.39" y2="179.2" stroke="#089981" stroke-opacity="0.62" stroke-width="0.95"/>
<rect x="615.79" y="120.1" width="3.2" height="45.4" fill="#089981"/>
<line x1="621.64" y1="120.0" x2="621.64" y2="135.6" stroke="#F23645" stroke-opacity="0.62" stroke-width="0.95"/>
<rect x="620.04" y="120.3" width="3.2" height="5.4" fill="#F23645"/>
<line x1="625.89" y1="110.2" x2="625.89" y2="137.8" stroke="#F23645" stroke-opacity="0.62" stroke-width="0.95"/>
<rect x="624.29" y="125.7" width="3.2" height="4.1" fill="#F23645"/>
<line x1="630.14" y1="123.9" x2="630.14" y2="170.8" stroke="#F23645" stroke-opacity="0.62" stroke-width="0.95"/>
<rect x="628.54" y="129.8" width="3.2" height="33.8" fill="#F23645"/>
<line x1="634.40" y1="118.2" x2="634.40" y2="165.9" stroke="#089981" stroke-opacity="0.62" stroke-width="0.95"/>
<rect x="632.80" y="132.1" width="3.2" height="31.5" fill="#089981"/>
<line x1="638.65" y1="126.2" x2="638.65" y2="142.2" stroke="#F23645" stroke-opacity="0.62" stroke-width="0.95"/>
<rect x="637.05" y="132.1" width="3.2" height="8.9" fill="#F23645"/>
<line x1="642.90" y1="129.8" x2="642.90" y2="144.9" stroke="#F23645" stroke-opacity="0.62" stroke-width="0.95"/>
<rect x="641.30" y="140.5" width="3.2" height="1.0" fill="#F23645"/>
<line x1="647.15" y1="138.7" x2="647.15" y2="182.3" stroke="#F23645" stroke-opacity="0.62" stroke-width="0.95"/>
<rect x="645.55" y="141.0" width="3.2" height="31.0" fill="#F23645"/>
<line x1="651.41" y1="168.1" x2="651.41" y2="182.3" stroke="#F23645" stroke-opacity="0.62" stroke-width="0.95"/>
<rect x="649.81" y="171.6" width="3.2" height="1.0" fill="#F23645"/>
<line x1="655.66" y1="161.8" x2="655.66" y2="182.3" stroke="#F23645" stroke-opacity="0.62" stroke-width="0.95"/>
<rect x="654.06" y="172.0" width="3.2" height="9.5" fill="#F23645"/>
<line x1="659.91" y1="167.7" x2="659.91" y2="195.0" stroke="#F23645" stroke-opacity="0.62" stroke-width="0.95"/>
<rect x="658.31" y="181.5" width="3.2" height="3.5" fill="#F23645"/>
<line x1="664.17" y1="162.4" x2="664.17" y2="186.8" stroke="#089981" stroke-opacity="0.62" stroke-width="0.95"/>
<rect x="662.57" y="162.7" width="3.2" height="22.3" fill="#089981"/>
<line x1="668.42" y1="157.7" x2="668.42" y2="173.4" stroke="#F23645" stroke-opacity="0.62" stroke-width="0.95"/>
<rect x="666.82" y="162.7" width="3.2" height="3.2" fill="#F23645"/>
<line x1="672.67" y1="162.7" x2="672.67" y2="178.8" stroke="#F23645" stroke-opacity="0.62" stroke-width="0.95"/>
<rect x="671.07" y="165.9" width="3.2" height="11.1" fill="#F23645"/>
<line x1="676.92" y1="158.3" x2="676.92" y2="179.7" stroke="#089981" stroke-opacity="0.62" stroke-width="0.95"/>
<rect x="675.32" y="173.1" width="3.2" height="3.9" fill="#089981"/>
<line x1="681.18" y1="170.8" x2="681.18" y2="176.1" stroke="#F23645" stroke-opacity="0.62" stroke-width="0.95"/>
<rect x="679.58" y="172.5" width="3.2" height="1.0" fill="#F23645"/>
<line x1="685.43" y1="149.4" x2="685.43" y2="174.9" stroke="#089981" stroke-opacity="0.62" stroke-width="0.95"/>
<rect x="683.83" y="160.1" width="3.2" height="13.3" fill="#089981"/>
<line x1="689.68" y1="135.6" x2="689.68" y2="161.8" stroke="#089981" stroke-opacity="0.62" stroke-width="0.95"/>
<rect x="688.08" y="141.0" width="3.2" height="19.1" fill="#089981"/>
<line x1="693.93" y1="127.4" x2="693.93" y2="147.6" stroke="#F23645" stroke-opacity="0.62" stroke-width="0.95"/>
<rect x="692.33" y="141.0" width="3.2" height="4.8" fill="#F23645"/>
<line x1="698.19" y1="130.3" x2="698.19" y2="147.0" stroke="#089981" stroke-opacity="0.62" stroke-width="0.95"/>
<rect x="696.59" y="138.1" width="3.2" height="7.7" fill="#089981"/>
<line x1="702.44" y1="124.9" x2="702.44" y2="144.5" stroke="#089981" stroke-opacity="0.62" stroke-width="0.95"/>
<rect x="700.84" y="126.7" width="3.2" height="11.4" fill="#089981"/>
<line x1="706.69" y1="107.3" x2="706.69" y2="130.2" stroke="#089981" stroke-opacity="0.62" stroke-width="0.95"/>
<rect x="705.09" y="113.9" width="3.2" height="12.8" fill="#089981"/>
<line x1="710.95" y1="98.0" x2="710.95" y2="120.0" stroke="#089981" stroke-opacity="0.62" stroke-width="0.95"/>
<rect x="709.35" y="111.4" width="3.2" height="1.9" fill="#089981"/>
<line x1="715.20" y1="109.3" x2="715.20" y2="132.4" stroke="#F23645" stroke-opacity="0.62" stroke-width="0.95"/>
<rect x="713.60" y="111.0" width="3.2" height="17.9" fill="#F23645"/>
<line x1="719.45" y1="121.7" x2="719.45" y2="143.1" stroke="#F23645" stroke-opacity="0.62" stroke-width="0.95"/>
<rect x="717.85" y="128.9" width="3.2" height="6.2" fill="#F23645"/>
<line x1="723.70" y1="124.4" x2="723.70" y2="141.3" stroke="#089981" stroke-opacity="0.62" stroke-width="0.95"/>
<rect x="722.10" y="127.1" width="3.2" height="8.0" fill="#089981"/>
<line x1="727.96" y1="112.8" x2="727.96" y2="137.8" stroke="#089981" stroke-opacity="0.62" stroke-width="0.95"/>
<rect x="726.36" y="117.8" width="3.2" height="9.6" fill="#089981"/>
<line x1="732.21" y1="107.1" x2="732.21" y2="123.9" stroke="#F23645" stroke-opacity="0.62" stroke-width="0.95"/>
<rect x="730.61" y="117.8" width="3.2" height="1.8" fill="#F23645"/>
<line x1="736.46" y1="116.4" x2="736.46" y2="137.8" stroke="#F23645" stroke-opacity="0.62" stroke-width="0.95"/>
<rect x="734.86" y="120.0" width="3.2" height="16.9" fill="#F23645"/>
<line x1="740.71" y1="132.8" x2="740.71" y2="140.5" stroke="#F23645" stroke-opacity="0.62" stroke-width="0.95"/>
<rect x="739.11" y="136.9" width="3.2" height="2.3" fill="#F23645"/>
<line x1="744.97" y1="131.5" x2="744.97" y2="143.5" stroke="#F23645" stroke-opacity="0.62" stroke-width="0.95"/>
<rect x="743.37" y="138.7" width="3.2" height="1.0" fill="#F23645"/>
<line x1="749.22" y1="139.6" x2="749.22" y2="195.0" stroke="#F23645" stroke-opacity="0.62" stroke-width="0.95"/>
<rect x="747.62" y="140.5" width="3.2" height="23.7" fill="#F23645"/>
<line x1="753.47" y1="155.6" x2="753.47" y2="175.2" stroke="#F23645" stroke-opacity="0.62" stroke-width="0.95"/>
<rect x="751.87" y="164.2" width="3.2" height="5.7" fill="#F23645"/>
<line x1="757.73" y1="135.1" x2="757.73" y2="177.0" stroke="#089981" stroke-opacity="0.62" stroke-width="0.95"/>
<rect x="756.13" y="149.9" width="3.2" height="20.0" fill="#089981"/>
<line x1="761.98" y1="145.8" x2="761.98" y2="191.3" stroke="#F23645" stroke-opacity="0.62" stroke-width="0.95"/>
<rect x="760.38" y="149.4" width="3.2" height="38.3" fill="#F23645"/>
<line x1="766.23" y1="169.9" x2="766.23" y2="193.9" stroke="#089981" stroke-opacity="0.62" stroke-width="0.95"/>
<rect x="764.63" y="179.1" width="3.2" height="8.6" fill="#089981"/>
<line x1="770.48" y1="169.9" x2="770.48" y2="182.3" stroke="#089981" stroke-opacity="0.62" stroke-width="0.95"/>
<rect x="768.88" y="175.2" width="3.2" height="3.9" fill="#089981"/>
<line x1="774.74" y1="155.6" x2="774.74" y2="182.3" stroke="#089981" stroke-opacity="0.62" stroke-width="0.95"/>
<rect x="773.14" y="161.8" width="3.2" height="13.4" fill="#089981"/>
<line x1="778.99" y1="149.4" x2="778.99" y2="163.6" stroke="#089981" stroke-opacity="0.62" stroke-width="0.95"/>
<rect x="777.39" y="159.2" width="3.2" height="2.6" fill="#089981"/>
<line x1="783.24" y1="153.5" x2="783.24" y2="172.0" stroke="#F23645" stroke-opacity="0.62" stroke-width="0.95"/>
<rect x="781.64" y="158.3" width="3.2" height="8.0" fill="#F23645"/>
<line x1="787.49" y1="142.4" x2="787.49" y2="172.3" stroke="#089981" stroke-opacity="0.62" stroke-width="0.95"/>
<rect x="785.89" y="144.9" width="3.2" height="21.4" fill="#089981"/>
<line x1="791.75" y1="113.9" x2="791.75" y2="145.8" stroke="#089981" stroke-opacity="0.62" stroke-width="0.95"/>
<rect x="790.15" y="126.7" width="3.2" height="18.1" fill="#089981"/>
<line x1="796.00" y1="115.7" x2="796.00" y2="142.8" stroke="#089981" stroke-opacity="0.62" stroke-width="0.95"/>
<rect x="794.40" y="126.4" width="3.2" height="1.0" fill="#089981"/>
<line x1="800.25" y1="123.2" x2="800.25" y2="144.6" stroke="#F23645" stroke-opacity="0.62" stroke-width="0.95"/>
<rect x="798.65" y="125.8" width="3.2" height="15.2" fill="#F23645"/>
<line x1="804.50" y1="120.0" x2="804.50" y2="142.8" stroke="#089981" stroke-opacity="0.62" stroke-width="0.95"/>
<rect x="802.90" y="140.1" width="3.2" height="1.0" fill="#089981"/>
<line x1="808.76" y1="124.1" x2="808.76" y2="143.7" stroke="#089981" stroke-opacity="0.62" stroke-width="0.95"/>
<rect x="807.16" y="137.1" width="3.2" height="3.5" fill="#089981"/>
<line x1="813.01" y1="133.9" x2="813.01" y2="165.0" stroke="#F23645" stroke-opacity="0.62" stroke-width="0.95"/>
<rect x="811.41" y="137.1" width="3.2" height="27.4" fill="#F23645"/>
<line x1="817.26" y1="149.9" x2="817.26" y2="169.2" stroke="#089981" stroke-opacity="0.62" stroke-width="0.95"/>
<rect x="815.66" y="158.8" width="3.2" height="5.7" fill="#089981"/>
<line x1="821.52" y1="157.0" x2="821.52" y2="181.1" stroke="#F23645" stroke-opacity="0.62" stroke-width="0.95"/>
<rect x="819.92" y="158.8" width="3.2" height="16.1" fill="#F23645"/>
<line x1="825.77" y1="167.7" x2="825.77" y2="400.0" stroke="#F23645" stroke-opacity="0.62" stroke-width="0.95"/>
<rect x="824.17" y="174.9" width="3.2" height="99.7" fill="#F23645"/>
<line x1="830.02" y1="241.9" x2="830.02" y2="293.4" stroke="#089981" stroke-opacity="0.62" stroke-width="0.95"/>
<rect x="828.42" y="271.8" width="3.2" height="2.8" fill="#089981"/>
<line x1="834.27" y1="223.9" x2="834.27" y2="290.5" stroke="#089981" stroke-opacity="0.62" stroke-width="0.95"/>
<rect x="832.67" y="236.2" width="3.2" height="35.6" fill="#089981"/>
<line x1="838.53" y1="208.7" x2="838.53" y2="239.0" stroke="#089981" stroke-opacity="0.62" stroke-width="0.95"/>
<rect x="836.93" y="218.2" width="3.2" height="18.0" fill="#089981"/>
<line x1="842.78" y1="215.0" x2="842.78" y2="270.0" stroke="#F23645" stroke-opacity="0.62" stroke-width="0.95"/>
<rect x="841.18" y="218.9" width="3.2" height="23.9" fill="#F23645"/>
<line x1="847.03" y1="232.5" x2="847.03" y2="274.6" stroke="#F23645" stroke-opacity="0.62" stroke-width="0.95"/>
<rect x="845.43" y="242.8" width="3.2" height="22.5" fill="#F23645"/>
<line x1="851.28" y1="251.2" x2="851.28" y2="295.2" stroke="#F23645" stroke-opacity="0.62" stroke-width="0.95"/>
<rect x="849.68" y="265.3" width="3.2" height="20.6" fill="#F23645"/>
<line x1="855.54" y1="268.1" x2="855.54" y2="323.3" stroke="#F23645" stroke-opacity="0.62" stroke-width="0.95"/>
<rect x="853.94" y="285.9" width="3.2" height="8.8" fill="#F23645"/>
<line x1="859.79" y1="270.0" x2="859.79" y2="295.2" stroke="#089981" stroke-opacity="0.62" stroke-width="0.95"/>
<rect x="858.19" y="278.4" width="3.2" height="16.3" fill="#089981"/>
<line x1="864.04" y1="263.4" x2="864.04" y2="288.7" stroke="#089981" stroke-opacity="0.62" stroke-width="0.95"/>
<rect x="862.44" y="270.0" width="3.2" height="8.4" fill="#089981"/>
<line x1="868.30" y1="230.6" x2="868.30" y2="278.4" stroke="#089981" stroke-opacity="0.62" stroke-width="0.95"/>
<rect x="866.70" y="244.7" width="3.2" height="25.6" fill="#089981"/>
<line x1="872.55" y1="235.9" x2="872.55" y2="267.1" stroke="#F23645" stroke-opacity="0.62" stroke-width="0.95"/>
<rect x="870.95" y="244.7" width="3.2" height="16.8" fill="#F23645"/>
<line x1="876.80" y1="258.7" x2="876.80" y2="286.4" stroke="#F23645" stroke-opacity="0.62" stroke-width="0.95"/>
<rect x="875.20" y="262.1" width="3.2" height="15.0" fill="#F23645"/>
<line x1="881.05" y1="262.5" x2="881.05" y2="280.0" stroke="#089981" stroke-opacity="0.62" stroke-width="0.95"/>
<rect x="879.45" y="265.8" width="3.2" height="11.3" fill="#089981"/>
<line x1="365.8" y1="146.3" x2="971.5" y2="146.3" stroke="#2962FF" stroke-width="1.3"/>
<line x1="72" y1="220.2" x2="971.5" y2="220.2" stroke="#2962FF" stroke-width="1.3"/>
<line x1="628" y1="293.5" x2="971.5" y2="293.5" stroke="#2962FF" stroke-width="1.3"/>
<line x1="855.2" y1="322.9" x2="971.5" y2="322.9" stroke="#2962FF" stroke-width="1.3"/>
<polyline points="791.3,113.5 825.8,274.6 881.2,307.4" fill="none" stroke="#1a1a1a" stroke-width="1.2"/>
</g>
<rect x="7.60" y="425.20" width="3.3" height="1.70" fill="#FFCDD2"/>
<rect x="11.85" y="425.20" width="3.3" height="2.30" fill="#FF5252"/>
<rect x="16.11" y="425.20" width="3.3" height="1.00" fill="#FFCDD2"/>
<rect x="20.36" y="425.20" width="3.3" height="1.00" fill="#FFCDD2"/>
<rect x="24.61" y="425.20" width="3.3" height="1.00" fill="#FFCDD2"/>
<rect x="28.86" y="425.20" width="3.3" height="2.30" fill="#FF5252"/>
<rect x="33.12" y="425.20" width="3.3" height="2.30" fill="#FF5252"/>
<rect x="37.37" y="425.20" width="3.3" height="2.70" fill="#FF5252"/>
<rect x="41.62" y="425.20" width="3.3" height="1.30" fill="#FFCDD2"/>
<rect x="45.87" y="425.20" width="3.3" height="1.30" fill="#FFCDD2"/>
<rect x="50.13" y="425.20" width="3.3" height="1.30" fill="#FFCDD2"/>
<rect x="54.38" y="423.40" width="3.3" height="1.80" fill="#26A69A"/>
<rect x="58.63" y="423.40" width="3.3" height="1.80" fill="#26A69A"/>
<rect x="62.89" y="423.40" width="3.3" height="1.80" fill="#26A69A"/>
<rect x="67.14" y="423.40" width="3.3" height="1.80" fill="#26A69A"/>
<rect x="71.39" y="423.80" width="3.3" height="1.40" fill="#B2DFDB"/>
<rect x="75.64" y="423.80" width="3.3" height="1.40" fill="#B2DFDB"/>
<rect x="79.90" y="423.80" width="3.3" height="1.40" fill="#B2DFDB"/>
<rect x="84.15" y="423.60" width="3.3" height="1.60" fill="#26A69A"/>
<rect x="88.40" y="424.00" width="3.3" height="1.20" fill="#B2DFDB"/>
<rect x="92.65" y="424.00" width="3.3" height="1.20" fill="#B2DFDB"/>
<rect x="96.91" y="423.00" width="3.3" height="2.20" fill="#26A69A"/>
<rect x="101.16" y="423.00" width="3.3" height="2.20" fill="#26A69A"/>
<rect x="105.41" y="423.00" width="3.3" height="2.20" fill="#26A69A"/>
<rect x="109.66" y="423.40" width="3.3" height="1.80" fill="#26A69A"/>
<rect x="113.92" y="423.40" width="3.3" height="1.80" fill="#26A69A"/>
<rect x="118.17" y="423.40" width="3.3" height="1.80" fill="#26A69A"/>
<rect x="122.42" y="423.40" width="3.3" height="1.80" fill="#26A69A"/>
<rect x="126.68" y="424.40" width="3.3" height="0.80" fill="#B2DFDB"/>
<rect x="130.93" y="424.40" width="3.3" height="0.80" fill="#B2DFDB"/>
<rect x="135.18" y="424.40" width="3.3" height="0.80" fill="#B2DFDB"/>
<rect x="139.43" y="425.20" width="3.3" height="0.80" fill="#FFCDD2"/>
<rect x="143.69" y="425.20" width="3.3" height="0.80" fill="#FFCDD2"/>
<rect x="147.94" y="425.20" width="3.3" height="0.80" fill="#FFCDD2"/>
<rect x="152.19" y="425.20" width="3.3" height="0.80" fill="#FFCDD2"/>
<rect x="156.44" y="425.20" width="3.3" height="0.80" fill="#FFCDD2"/>
<rect x="160.70" y="425.20" width="3.3" height="1.50" fill="#FF5252"/>
<rect x="164.95" y="423.60" width="3.3" height="1.60" fill="#26A69A"/>
<rect x="169.20" y="423.60" width="3.3" height="1.60" fill="#26A69A"/>
<rect x="173.46" y="422.70" width="3.3" height="2.50" fill="#26A69A"/>
<rect x="177.71" y="423.70" width="3.3" height="1.50" fill="#B2DFDB"/>
<rect x="181.96" y="422.20" width="3.3" height="3.00" fill="#26A69A"/>
<rect x="186.21" y="422.20" width="3.3" height="3.00" fill="#26A69A"/>
<rect x="190.47" y="422.70" width="3.3" height="2.50" fill="#B2DFDB"/>
<rect x="194.72" y="422.70" width="3.3" height="2.50" fill="#B2DFDB"/>
<rect x="198.97" y="424.20" width="3.3" height="1.00" fill="#B2DFDB"/>
<rect x="203.22" y="424.20" width="3.3" height="1.00" fill="#B2DFDB"/>
<rect x="207.48" y="424.20" width="3.3" height="1.00" fill="#B2DFDB"/>
<rect x="211.73" y="425.20" width="3.3" height="1.00" fill="#FF5252"/>
<rect x="215.98" y="425.20" width="3.3" height="1.00" fill="#FF5252"/>
<rect x="220.23" y="425.20" width="3.3" height="1.00" fill="#FF5252"/>
<rect x="224.49" y="425.20" width="3.3" height="1.00" fill="#FF5252"/>
<rect x="228.74" y="425.20" width="3.3" height="1.00" fill="#FF5252"/>
<rect x="232.99" y="425.20" width="3.3" height="1.00" fill="#FF5252"/>
<rect x="237.25" y="425.20" width="3.3" height="1.00" fill="#FF5252"/>
<rect x="241.50" y="425.20" width="3.3" height="1.00" fill="#FF5252"/>
<rect x="245.75" y="425.20" width="3.3" height="1.00" fill="#FF5252"/>
<rect x="250.00" y="425.20" width="3.3" height="2.00" fill="#FF5252"/>
<rect x="254.26" y="425.20" width="3.3" height="2.00" fill="#FF5252"/>
<rect x="258.51" y="425.20" width="3.3" height="2.00" fill="#FF5252"/>
<rect x="262.76" y="425.20" width="3.3" height="2.00" fill="#FF5252"/>
<rect x="267.01" y="425.20" width="3.3" height="0.80" fill="#FFCDD2"/>
<rect x="271.27" y="425.20" width="3.3" height="0.80" fill="#FFCDD2"/>
<rect x="275.52" y="425.20" width="3.3" height="0.80" fill="#FFCDD2"/>
<rect x="279.77" y="425.20" width="3.3" height="0.80" fill="#FFCDD2"/>
<rect x="284.03" y="425.20" width="3.3" height="1.50" fill="#FF5252"/>
<rect x="288.28" y="425.20" width="3.3" height="1.50" fill="#FF5252"/>
<rect x="292.53" y="425.20" width="3.3" height="0.60" fill="#FFCDD2"/>
<rect x="296.78" y="425.20" width="3.3" height="0.60" fill="#FFCDD2"/>
<rect x="301.04" y="423.70" width="3.3" height="1.50" fill="#26A69A"/>
<rect x="305.29" y="423.70" width="3.3" height="1.50" fill="#26A69A"/>
<rect x="309.54" y="423.70" width="3.3" height="1.50" fill="#26A69A"/>
<rect x="313.79" y="424.50" width="3.3" height="0.70" fill="#B2DFDB"/>
<rect x="318.05" y="424.50" width="3.3" height="0.70" fill="#B2DFDB"/>
<rect x="322.30" y="424.50" width="3.3" height="0.70" fill="#B2DFDB"/>
<rect x="326.55" y="424.50" width="3.3" height="0.70" fill="#B2DFDB"/>
<rect x="330.81" y="424.50" width="3.3" height="0.70" fill="#B2DFDB"/>
<rect x="335.06" y="424.50" width="3.3" height="0.70" fill="#B2DFDB"/>
<rect x="339.31" y="424.50" width="3.3" height="0.70" fill="#B2DFDB"/>
<rect x="343.56" y="425.20" width="3.3" height="1.50" fill="#FF5252"/>
<rect x="347.82" y="425.20" width="3.3" height="1.50" fill="#FF5252"/>
<rect x="352.07" y="425.20" width="3.3" height="1.50" fill="#FF5252"/>
<rect x="356.32" y="425.20" width="3.3" height="1.50" fill="#FF5252"/>
<rect x="360.57" y="425.20" width="3.3" height="0.60" fill="#FFCDD2"/>
<rect x="364.83" y="425.20" width="3.3" height="0.60" fill="#FFCDD2"/>
<rect x="369.08" y="423.80" width="3.3" height="1.40" fill="#B2DFDB"/>
<rect x="373.33" y="423.80" width="3.3" height="1.40" fill="#B2DFDB"/>
<rect x="377.58" y="423.80" width="3.3" height="1.40" fill="#B2DFDB"/>
<rect x="381.84" y="423.80" width="3.3" height="1.40" fill="#B2DFDB"/>
<rect x="386.09" y="423.80" width="3.3" height="1.40" fill="#B2DFDB"/>
<rect x="390.34" y="423.80" width="3.3" height="1.40" fill="#B2DFDB"/>
<rect x="394.60" y="423.60" width="3.3" height="1.60" fill="#26A69A"/>
<rect x="398.85" y="423.20" width="3.3" height="2.00" fill="#26A69A"/>
<rect x="403.10" y="423.20" width="3.3" height="2.00" fill="#26A69A"/>
<rect x="407.35" y="423.20" width="3.3" height="2.00" fill="#26A69A"/>
<rect x="411.61" y="424.40" width="3.3" height="0.80" fill="#B2DFDB"/>
<rect x="415.86" y="424.40" width="3.3" height="0.80" fill="#B2DFDB"/>
<rect x="420.11" y="424.40" width="3.3" height="0.80" fill="#B2DFDB"/>
<rect x="424.36" y="423.20" width="3.3" height="2.00" fill="#26A69A"/>
<rect x="428.62" y="423.20" width="3.3" height="2.00" fill="#26A69A"/>
<rect x="432.87" y="422.20" width="3.3" height="3.00" fill="#26A69A"/>
<rect x="437.12" y="421.40" width="3.3" height="3.80" fill="#26A69A"/>
<rect x="441.38" y="420.70" width="3.3" height="4.50" fill="#26A69A"/>
<rect x="445.63" y="419.90" width="3.3" height="5.30" fill="#26A69A"/>
<rect x="449.88" y="419.10" width="3.3" height="6.10" fill="#26A69A"/>
<rect x="454.13" y="419.90" width="3.3" height="5.30" fill="#B2DFDB"/>
<rect x="458.39" y="419.10" width="3.3" height="6.10" fill="#26A69A"/>
<rect x="462.64" y="417.50" width="3.3" height="7.70" fill="#26A69A"/>
<rect x="466.89" y="417.20" width="3.3" height="8.00" fill="#26A69A"/>
<rect x="471.14" y="417.20" width="3.3" height="8.00" fill="#B2DFDB"/>
<rect x="475.40" y="418.00" width="3.3" height="7.20" fill="#B2DFDB"/>
<rect x="479.65" y="418.30" width="3.3" height="6.90" fill="#B2DFDB"/>
<rect x="483.90" y="419.10" width="3.3" height="6.10" fill="#B2DFDB"/>
<rect x="488.16" y="421.90" width="3.3" height="3.30" fill="#B2DFDB"/>
<rect x="492.41" y="424.20" width="3.3" height="1.00" fill="#B2DFDB"/>
<rect x="496.66" y="425.20" width="3.3" height="1.00" fill="#FF5252"/>
<rect x="500.91" y="425.20" width="3.3" height="1.40" fill="#FF5252"/>
<rect x="505.17" y="425.20" width="3.3" height="2.20" fill="#FF5252"/>
<rect x="509.42" y="425.20" width="3.3" height="3.00" fill="#FF5252"/>
<rect x="513.67" y="425.20" width="3.3" height="3.30" fill="#FF5252"/>
<rect x="517.92" y="425.20" width="3.3" height="4.10" fill="#FF5252"/>
<rect x="522.18" y="425.20" width="3.3" height="4.50" fill="#FF5252"/>
<rect x="526.43" y="425.20" width="3.3" height="5.00" fill="#FF5252"/>
<rect x="530.68" y="425.20" width="3.3" height="6.10" fill="#FF5252"/>
<rect x="534.93" y="425.20" width="3.3" height="5.30" fill="#FFCDD2"/>
<rect x="539.19" y="425.20" width="3.3" height="4.50" fill="#FFCDD2"/>
<rect x="543.44" y="425.20" width="3.3" height="4.10" fill="#FFCDD2"/>
<rect x="547.69" y="425.20" width="3.3" height="3.50" fill="#FFCDD2"/>
<rect x="551.95" y="425.20" width="3.3" height="1.40" fill="#FFCDD2"/>
<rect x="556.20" y="425.20" width="3.3" height="0.50" fill="#FFCDD2"/>
<rect x="560.45" y="425.20" width="3.3" height="0.50" fill="#FFCDD2"/>
<rect x="564.70" y="425.20" width="3.3" height="0.50" fill="#FFCDD2"/>
<rect x="568.96" y="425.20" width="3.3" height="1.00" fill="#FF5252"/>
<rect x="573.21" y="425.20" width="3.3" height="0.40" fill="#FFCDD2"/>
<rect x="577.46" y="425.20" width="3.3" height="0.40" fill="#FFCDD2"/>
<rect x="581.71" y="425.20" width="3.3" height="1.20" fill="#FF5252"/>
<rect x="585.97" y="425.20" width="3.3" height="1.20" fill="#FF5252"/>
<rect x="590.22" y="425.20" width="3.3" height="1.20" fill="#FF5252"/>
<rect x="594.47" y="425.20" width="3.3" height="1.80" fill="#FF5252"/>
<rect x="598.73" y="425.20" width="3.3" height="1.80" fill="#FF5252"/>
<rect x="602.98" y="425.20" width="3.3" height="2.40" fill="#FF5252"/>
<rect x="607.23" y="425.20" width="3.3" height="3.00" fill="#FF5252"/>
<rect x="611.48" y="425.20" width="3.3" height="3.50" fill="#FF5252"/>
<rect x="615.74" y="425.20" width="3.3" height="1.00" fill="#FFCDD2"/>
<rect x="619.99" y="425.20" width="3.3" height="1.00" fill="#FFCDD2"/>
<rect x="624.24" y="425.20" width="3.3" height="1.00" fill="#FFCDD2"/>
<rect x="628.49" y="425.20" width="3.3" height="2.00" fill="#FF5252"/>
<rect x="632.75" y="425.20" width="3.3" height="0.40" fill="#FFCDD2"/>
<rect x="637.00" y="425.20" width="3.3" height="0.40" fill="#FFCDD2"/>
<rect x="641.25" y="425.20" width="3.3" height="0.40" fill="#FFCDD2"/>
<rect x="645.50" y="425.20" width="3.3" height="1.70" fill="#FF5252"/>
<rect x="649.76" y="425.20" width="3.3" height="1.70" fill="#FF5252"/>
<rect x="654.01" y="425.20" width="3.3" height="1.70" fill="#FF5252"/>
<rect x="658.26" y="425.20" width="3.3" height="1.70" fill="#FF5252"/>
<rect x="662.52" y="425.20" width="3.3" height="0.50" fill="#FFCDD2"/>
<rect x="666.77" y="425.20" width="3.3" height="0.50" fill="#FFCDD2"/>
<rect x="671.02" y="425.20" width="3.3" height="0.50" fill="#FFCDD2"/>
<rect x="675.27" y="425.20" width="3.3" height="0.50" fill="#FFCDD2"/>
<rect x="679.53" y="425.20" width="3.3" height="0.50" fill="#FFCDD2"/>
<rect x="683.78" y="425.20" width="3.3" height="0.50" fill="#FFCDD2"/>
<rect x="688.03" y="424.20" width="3.3" height="1.00" fill="#26A69A"/>
<rect x="692.28" y="424.20" width="3.3" height="1.00" fill="#26A69A"/>
<rect x="696.54" y="423.70" width="3.3" height="1.50" fill="#26A69A"/>
<rect x="700.79" y="422.40" width="3.3" height="2.80" fill="#26A69A"/>
<rect x="705.04" y="422.40" width="3.3" height="2.80" fill="#26A69A"/>
<rect x="709.30" y="422.40" width="3.3" height="2.80" fill="#26A69A"/>
<rect x="713.55" y="424.40" width="3.3" height="0.80" fill="#B2DFDB"/>
<rect x="717.80" y="424.40" width="3.3" height="0.80" fill="#B2DFDB"/>
<rect x="722.05" y="424.40" width="3.3" height="0.80" fill="#B2DFDB"/>
<rect x="726.31" y="424.40" width="3.3" height="0.80" fill="#B2DFDB"/>
<rect x="730.56" y="424.40" width="3.3" height="0.80" fill="#B2DFDB"/>
<rect x="734.81" y="425.20" width="3.3" height="0.30" fill="#FFCDD2"/>
<rect x="739.06" y="425.20" width="3.3" height="0.30" fill="#FFCDD2"/>
<rect x="743.32" y="425.20" width="3.3" height="0.30" fill="#FFCDD2"/>
<rect x="747.57" y="425.20" width="3.3" height="1.50" fill="#FF5252"/>
<rect x="751.82" y="425.20" width="3.3" height="1.50" fill="#FF5252"/>
<rect x="756.08" y="425.20" width="3.3" height="0.80" fill="#FFCDD2"/>
<rect x="760.33" y="425.20" width="3.3" height="2.00" fill="#FF5252"/>
<rect x="764.58" y="425.20" width="3.3" height="2.00" fill="#FF5252"/>
<rect x="768.83" y="425.20" width="3.3" height="1.00" fill="#FFCDD2"/>
<rect x="773.09" y="425.20" width="3.3" height="1.00" fill="#FFCDD2"/>
<rect x="777.34" y="425.20" width="3.3" height="1.00" fill="#FFCDD2"/>
<rect x="781.59" y="425.20" width="3.3" height="1.00" fill="#FFCDD2"/>
<rect x="785.84" y="424.20" width="3.3" height="1.00" fill="#26A69A"/>
<rect x="790.10" y="423.70" width="3.3" height="1.50" fill="#26A69A"/>
<rect x="794.35" y="423.70" width="3.3" height="1.50" fill="#26A69A"/>
<rect x="798.60" y="424.90" width="3.3" height="0.30" fill="#B2DFDB"/>
<rect x="802.85" y="424.90" width="3.3" height="0.30" fill="#B2DFDB"/>
<rect x="807.11" y="424.90" width="3.3" height="0.30" fill="#B2DFDB"/>
<rect x="811.36" y="424.90" width="3.3" height="0.30" fill="#B2DFDB"/>
<rect x="815.61" y="424.90" width="3.3" height="0.30" fill="#B2DFDB"/>
<rect x="819.87" y="424.90" width="3.3" height="0.30" fill="#B2DFDB"/>
<rect x="824.12" y="425.20" width="3.3" height="2.00" fill="#FF5252"/>
<rect x="828.37" y="425.20" width="3.3" height="3.50" fill="#FF5252"/>
<rect x="832.62" y="425.20" width="3.3" height="2.00" fill="#FFCDD2"/>
<rect x="836.88" y="425.20" width="3.3" height="2.00" fill="#FFCDD2"/>
<rect x="841.13" y="425.20" width="3.3" height="2.00" fill="#FFCDD2"/>
<rect x="845.38" y="425.20" width="3.3" height="3.00" fill="#FF5252"/>
<rect x="849.63" y="425.20" width="3.3" height="3.50" fill="#FF5252"/>
<rect x="853.89" y="425.20" width="3.3" height="3.50" fill="#FF5252"/>
<rect x="858.14" y="425.20" width="3.3" height="2.00" fill="#FFCDD2"/>
<rect x="862.39" y="425.20" width="3.3" height="2.00" fill="#FFCDD2"/>
<rect x="866.65" y="425.20" width="3.3" height="1.00" fill="#FFCDD2"/>
<rect x="870.90" y="425.20" width="3.3" height="0.50" fill="#FFCDD2"/>
<rect x="875.15" y="425.20" width="3.3" height="0.50" fill="#FFCDD2"/>
<rect x="879.40" y="425.20" width="3.3" height="0.50" fill="#FFCDD2"/>
<line x1="880.6" y1="425.2" x2="971.5" y2="425.2" stroke="#B2B5BE" stroke-width="0.8" stroke-dasharray="2.5 2.5"/>
<polyline points="6.0,426.6 23.4,429.7 49.2,432.5 70.3,429.7 93.7,427.3 117.0,424.5 131.2,423.1 152.3,424.3 168.7,422.7 187.5,420.3 199.2,419.1 222.6,420.3 240.0,421.2 253.4,422.0 276.9,425.5 300.3,426.2 323.7,425.5 347.2,426.2 370.6,426.6 398.7,425.0 429.2,423.1 452.6,418.4 470.0,410.9 486.4,404.4 493.4,403.9 505.2,404.8 523.9,409.1 540.3,414.9 552.0,417.3 575.5,418.4 596.6,419.6 615.3,423.1 634.0,425.0 657.5,426.6 680.9,429.0 695.0,428.3 710.0,425.2 735.4,422.9 760.8,425.5 786.2,426.7 801.4,425.0 819.2,425.0 837.0,429.3 852.2,432.6 864.9,434.4 880.6,434.4" fill="none" stroke="#FF6D00" stroke-width="0.75" stroke-linejoin="round"/>
<polyline points="6.0,429.0 14.0,430.2 23.4,430.2 38.7,433.7 53.9,431.3 70.3,428.5 93.7,426.6 117.0,423.8 126.6,422.4 140.6,422.7 152.3,424.3 164.0,423.6 178.0,419.6 189.8,417.5 203.9,419.1 222.6,420.8 234.4,422.0 253.4,423.6 272.2,426.6 288.6,428.3 309.7,425.0 328.4,426.6 356.5,428.3 375.3,426.6 398.7,425.0 417.5,424.1 429.2,422.7 440.9,417.3 459.7,410.2 470.0,402.8 485.2,398.5 495.8,403.9 516.9,411.4 533.3,418.4 547.3,420.8 556.7,418.0 573.1,418.4 582.5,418.9 601.2,422.0 615.3,425.0 634.0,425.9 655.1,429.0 680.9,429.5 695.0,427.8 710.0,424.5 730.3,422.4 748.1,424.2 765.9,427.2 786.2,426.7 796.3,424.2 816.7,425.0 824.3,428.5 831.9,431.8 842.0,433.1 854.7,435.6 864.9,436.1 872.5,435.1 880.6,434.4" fill="none" stroke="#2962FF" stroke-width="0.75" stroke-linejoin="round"/>
<rect x="6.5" y="463.5" width="965.0" height="35.60000000000002" fill="#7E57C2" fill-opacity="0.1"/>
<line x1="6.5" y1="463.5" x2="971.5" y2="463.5" stroke="#A3A6AF" stroke-width="0.8" stroke-dasharray="2 2.2"/>
<line x1="6.5" y1="477.3" x2="971.5" y2="477.3" stroke="#A3A6AF" stroke-width="0.8" stroke-dasharray="2 2.2"/>
<line x1="6.5" y1="499.1" x2="971.5" y2="499.1" stroke="#A3A6AF" stroke-width="0.8" stroke-dasharray="2 2.2"/>
<linearGradient id="gob" x1="0" y1="0" x2="0" y2="1"><stop offset="0" stop-color="#4CAF50" stop-opacity="0.55"/><stop offset="1" stop-color="#4CAF50" stop-opacity="0.05"/></linearGradient>
<polygon points="432.5,463.5 438.6,458.5 443.3,458.5 450.3,456.2 456.1,457.4 464.4,453.9 470.0,456.2 476.0,455.8 485.2,455.5 488.7,463.5 488.2,463.5" fill="url(#gob)"/>
<polyline points="6.0,478.9 23.4,482.7 46.9,487.4 70.3,483.6 93.7,480.3 117.2,476.1 140.6,474.2 164.0,474.2 187.5,472.6 210.9,470.9 222.6,470.3 240.0,472.0 253.4,475.7 276.9,480.3 295.6,482.7 323.7,480.8 347.2,480.3 370.6,482.7 394.0,480.3 417.5,477.3 429.2,475.0 440.9,470.3 455.0,465.6 470.0,460.9 486.4,456.9 505.2,459.7 521.6,463.2 545.0,472.6 563.7,474.2 587.2,473.8 610.6,475.7 634.0,478.5 657.5,481.3 680.9,482.0 695.0,480.8 710.0,478.0 735.4,473.9 748.1,474.7 760.8,476.4 773.5,479.7 786.2,480.5 801.4,479.5 819.2,479.0 842.0,482.3 857.3,485.6 867.4,489.1 880.6,491.7" fill="none" stroke="#FBD54A" stroke-width="0.85" stroke-linejoin="round"/>
<polyline points="6.0,486.7 9.4,485.0 14.1,489.7 23.4,483.2 25.8,483.2 29.3,491.4 35.2,492.5 38.7,496.0 42.2,482.0 46.9,484.3 56.2,477.3 61.0,478.0 68.0,478.9 79.7,480.3 84.4,478.9 93.7,478.9 98.4,472.6 103.0,472.6 110.1,474.2 114.8,474.2 124.2,469.6 133.6,475.7 140.6,474.2 152.3,480.3 157.0,478.9 161.7,480.8 166.4,469.1 171.1,467.9 175.8,463.9 179.3,469.1 185.1,463.9 189.8,464.9 196.9,472.6 203.9,473.3 208.6,471.4 215.6,475.0 222.6,473.3 227.3,472.6 230.8,478.9 238.2,476.6 244.1,478.0 247.6,478.0 255.8,482.7 260.5,488.3 265.2,485.5 272.2,483.6 276.9,480.3 280.4,482.7 285.8,489.0 289.8,483.2 294.4,482.0 298.0,476.6 303.1,473.3 307.3,474.2 312.0,477.3 316.7,482.0 321.4,484.3 326.1,483.2 332.0,477.3 336.6,482.0 342.5,481.3 347.2,483.2 351.9,487.4 357.7,491.4 361.2,479.6 365.9,477.3 370.6,477.3 375.3,482.0 384.7,476.1 391.7,473.8 396.4,478.0 403.4,473.3 408.1,475.0 412.8,475.0 417.5,471.9 424.5,471.4 431.5,465.6 438.6,458.5 443.3,458.5 450.3,456.2 456.1,457.4 464.4,453.9 470.0,456.2 476.0,455.8 485.2,455.5 488.7,467.9 493.4,469.1 500.5,469.1 506.3,467.2 511.0,471.4 515.7,471.4 521.6,473.8 527.4,477.3 532.1,485.5 535.6,479.6 540.3,474.2 544.5,477.3 548.5,477.3 553.2,468.6 559.1,470.3 570.8,474.2 574.3,471.0 579.0,471.0 582.5,477.3 587.2,477.3 591.9,476.6 598.9,478.0 604.1,485.5 608.3,482.0 612.5,485.0 616.5,476.6 624.7,478.0 630.5,483.6 634.0,478.9 638.7,478.0 644.6,484.3 650.5,484.3 657.5,486.7 663.3,482.0 668.0,482.7 672.7,484.3 679.7,483.2 690.3,475.0 695.0,475.7 706.7,469.1 710.0,468.8 713.8,472.1 718.9,474.7 727.8,472.1 732.9,473.4 736.7,477.2 743.0,478.0 749.4,485.6 753.2,486.6 757.0,479.7 762.1,488.1 768.4,485.6 773.5,481.0 778.6,480.5 783.6,481.5 788.7,474.7 793.8,471.4 798.9,474.7 806.5,474.7 810.3,479.7 814.1,481.5 820.5,482.3 824.3,498.8 826.8,502.6 831.9,493.7 838.2,486.1 843.3,489.9 848.4,495.0 854.7,497.5 862.4,490.7 868.7,483.6 873.8,486.6 880.1,486.6" fill="none" stroke="#7E57C2" stroke-width="0.9" stroke-linejoin="round"/>
<line x1="825.5" y1="502.6" x2="915.7" y2="478" stroke="#1a1a1a" stroke-width="1.2"/>
<text x="890.8" y="496.1" font-size="7.6" font-weight="bold" fill="#2962FF" textLength="67.6" lengthAdjust="spacingAndGlyphs">Bullish divergence</text>
<text x="6.6" y="12.2" font-size="7.8" font-weight="normal" fill="#131722" textLength="246" lengthAdjust="spacingAndGlyphs">kanguhalubale created with TradingView.com, Oct 23, 2025 09:47 UTC</text>
<text x="11.4" y="28.9" font-size="7.5" font-weight="normal" fill="#131722" textLength="109.3" lengthAdjust="spacingAndGlyphs">XRP / U.S. Dollar - 1D - Bitstamp</text>
<text x="125" y="28.9" font-size="7.5" font-weight="normal" fill="#131722">O</text>
<text x="130.9" y="28.9" font-size="7.5" font-weight="normal" fill="#089981" textLength="29.3" lengthAdjust="spacingAndGlyphs">2.36492</text>
<text x="164.8" y="28.9" font-size="7.5" font-weight="normal" fill="#131722">H</text>
<text x="170.7" y="28.9" font-size="7.5" font-weight="normal" fill="#089981" textLength="27.7" lengthAdjust="spacingAndGlyphs">2.41950</text>
<text x="202.3" y="28.9" font-size="7.5" font-weight="normal" fill="#131722">L</text>
<text x="207" y="28.9" font-size="7.5" font-weight="normal" fill="#089981" textLength="27.4" lengthAdjust="spacingAndGlyphs">2.36185</text>
<text x="239" y="28.9" font-size="7.5" font-weight="normal" fill="#131722">C</text>
<text x="244.5" y="28.9" font-size="7.5" font-weight="normal" fill="#089981" textLength="28.9" lengthAdjust="spacingAndGlyphs">2.40862</text>
<text x="278" y="28.9" font-size="7.5" font-weight="normal" fill="#089981" textLength="67.7" lengthAdjust="spacingAndGlyphs">+0.04384 (+1.85%)</text>
<text x="11.7" y="38.7" font-size="7.5" font-weight="normal" fill="#131722" textLength="137.9" lengthAdjust="spacingAndGlyphs">SMAs (50, close, 100, close, 200, close)</text>
<text x="155" y="38.7" font-size="7.5" font-weight="normal" fill="#FFEB00" textLength="27.4" lengthAdjust="spacingAndGlyphs">2.79091</text>
<text x="186.7" y="38.7" font-size="7.5" font-weight="normal" fill="#8B1A1A" textLength="27.8" lengthAdjust="spacingAndGlyphs">2.94031</text>
<text x="219" y="38.7" font-size="7.5" font-weight="normal" fill="#9C27B0" textLength="28.7" lengthAdjust="spacingAndGlyphs">2.59576</text>
<text x="11.5" y="408.1" font-size="7.5" font-weight="normal" fill="#131722" textLength="72.2" lengthAdjust="spacingAndGlyphs">MACD (12, 26, close)</text>
<text x="89.3" y="408.1" font-size="7.5" font-weight="normal" fill="#FFCDD2" textLength="30" lengthAdjust="spacingAndGlyphs">−0.00133</text>
<text x="125.6" y="408.1" font-size="7.5" font-weight="normal" fill="#2962FF" textLength="32.5" lengthAdjust="spacingAndGlyphs">−0.13003</text>
<text x="163.1" y="408.1" font-size="7.5" font-weight="normal" fill="#FF6D00" textLength="31.4" lengthAdjust="spacingAndGlyphs">−0.12870</text>
<text x="11.2" y="463.6" font-size="7.4" font-weight="normal" fill="#131722" textLength="48.6" lengthAdjust="spacingAndGlyphs">RSI (14, close)</text>
<text x="65.5" y="463.6" font-size="7.6" font-weight="normal" fill="#7552BA" textLength="19.5" lengthAdjust="spacingAndGlyphs">40.36</text>
<text x="90" y="463.6" font-size="7.6" font-weight="normal" fill="#F2C81E" textLength="19.5" lengthAdjust="spacingAndGlyphs">35.44</text>
<text x="1007.2" y="63.1" font-size="8.1" font-weight="normal" fill="#30343E" textLength="29.8" lengthAdjust="spacingAndGlyphs" text-anchor="end">3.40000</text>
<text x="1007.2" y="99.2" font-size="8.1" font-weight="normal" fill="#30343E" textLength="29.8" lengthAdjust="spacingAndGlyphs" text-anchor="end">3.20000</text>
<text x="1007.2" y="118.2" font-size="8.1" font-weight="normal" fill="#30343E" textLength="29.8" lengthAdjust="spacingAndGlyphs" text-anchor="end">3.10000</text>
<text x="1007.2" y="158.0" font-size="8.1" font-weight="normal" fill="#30343E" textLength="29.8" lengthAdjust="spacingAndGlyphs" text-anchor="end">2.90000</text>
<text x="1007.2" y="200.6" font-size="8.1" font-weight="normal" fill="#30343E" textLength="29.8" lengthAdjust="spacingAndGlyphs" text-anchor="end">2.70000</text>
<text x="1007.2" y="246.6" font-size="8.1" font-weight="normal" fill="#30343E" textLength="29.8" lengthAdjust="spacingAndGlyphs" text-anchor="end">2.50000</text>
<text x="1007.2" y="317.4" font-size="8.1" font-weight="normal" fill="#30343E" textLength="29.8" lengthAdjust="spacingAndGlyphs" text-anchor="end">2.22000</text>
<text x="1007.2" y="339.4" font-size="8.1" font-weight="normal" fill="#30343E" textLength="29.8" lengthAdjust="spacingAndGlyphs" text-anchor="end">2.14000</text>
<text x="1007.2" y="359.2" font-size="8.1" font-weight="normal" fill="#30343E" textLength="29.8" lengthAdjust="spacingAndGlyphs" text-anchor="end">2.07000</text>
<text x="1007.2" y="379.7" font-size="8.1" font-weight="normal" fill="#30343E" textLength="29.8" lengthAdjust="spacingAndGlyphs" text-anchor="end">2.00000</text>
<rect x="973.5" y="18.5" width="42.5" height="16" rx="2.5" fill="#fff" stroke="#EEEFF2" stroke-width="1"/>
<text x="979" y="28.8" font-size="7.4" font-weight="normal" fill="#131722" textLength="15.4" lengthAdjust="spacingAndGlyphs">USD</text>
<rect x="972" y="131" width="38.200000000000045" height="10" rx="1" fill="#2962FF"/>
<text x="1007.2" y="138.7" font-size="8.1" font-weight="normal" fill="#fff" textLength="29.8" lengthAdjust="spacingAndGlyphs" text-anchor="end">2.94310</text>
<rect x="972" y="141.6" width="38.200000000000045" height="9.800000000000011" rx="1" fill="#880000"/>
<text x="1007.2" y="149.2" font-size="8.1" font-weight="normal" fill="#fff" textLength="29.8" lengthAdjust="spacingAndGlyphs" text-anchor="end">2.94031</text>
<rect x="972" y="172.8" width="38.200000000000045" height="9.799999999999983" rx="1" fill="#FFFF00"/>
<text x="1007.2" y="180.4" font-size="8.1" font-weight="normal" fill="#131722" textLength="29.8" lengthAdjust="spacingAndGlyphs" text-anchor="end">2.79091</text>
<rect x="972" y="206.3" width="38.200000000000045" height="9.5" rx="1" fill="#2962FF"/>
<text x="1007.2" y="213.8" font-size="8.1" font-weight="normal" fill="#fff" textLength="29.8" lengthAdjust="spacingAndGlyphs" text-anchor="end">2.60000</text>
<rect x="972" y="215.9" width="38.200000000000045" height="9.799999999999983" rx="1" fill="#800080"/>
<text x="1007.2" y="223.5" font-size="8.1" font-weight="normal" fill="#fff" textLength="29.8" lengthAdjust="spacingAndGlyphs" text-anchor="end">2.59576</text>
<rect x="972" y="261" width="40.5" height="18.7" rx="1.5" fill="#089981"/>
<text x="1007.2" y="268.4" font-size="8.1" font-weight="normal" fill="#fff" textLength="29.8" lengthAdjust="spacingAndGlyphs" text-anchor="end">2.40862</text>
<text x="1007.2" y="277.4" font-size="8.1" font-weight="normal" fill="#D8F0EC" textLength="31" lengthAdjust="spacingAndGlyphs" text-anchor="end">14:12:08</text>
<rect x="972" y="288.4" width="38.200000000000045" height="10.300000000000011" rx="1" fill="#2962FF"/>
<text x="1007.2" y="296.2" font-size="8.1" font-weight="normal" fill="#fff" textLength="29.8" lengthAdjust="spacingAndGlyphs" text-anchor="end">2.30035</text>
<rect x="972" y="318.5" width="38.200000000000045" height="9.899999999999977" rx="1" fill="#2962FF"/>
<text x="1007.2" y="326.1" font-size="8.1" font-weight="normal" fill="#fff" textLength="29.8" lengthAdjust="spacingAndGlyphs" text-anchor="end">2.18821</text>
<rect x="972" y="420" width="42.89999999999998" height="10" rx="1" fill="#FFCDD2"/>
<text x="1011.7" y="427.7" font-size="8.1" font-weight="normal" fill="#131722" textLength="34.2" lengthAdjust="spacingAndGlyphs" text-anchor="end">−0.00133</text>
<rect x="972" y="430.3" width="42.89999999999998" height="10.199999999999989" rx="1" fill="#FF6D00"/>
<text x="1011.7" y="438.1" font-size="8.1" font-weight="normal" fill="#fff" textLength="34.2" lengthAdjust="spacingAndGlyphs" text-anchor="end">−0.12870</text>
<rect x="972" y="441" width="42.89999999999998" height="9.600000000000023" rx="1" fill="#2962FF"/>
<text x="1011.7" y="448.5" font-size="8.1" font-weight="normal" fill="#fff" textLength="34.2" lengthAdjust="spacingAndGlyphs" text-anchor="end">−0.13003</text>
<text x="997.3" y="463.3" font-size="8.1" font-weight="normal" fill="#30343E" textLength="19.8" lengthAdjust="spacingAndGlyphs" text-anchor="end">75.00</text>
<rect x="972" y="481.5" width="28.4" height="9.9" fill="#7E57C2"/>
<text x="997.8" y="489.2" font-size="8.1" font-weight="normal" fill="#fff" textLength="20.5" lengthAdjust="spacingAndGlyphs" text-anchor="end">40.36</text>
<rect x="972" y="492.1" width="28.4" height="9.7" fill="#FDD835"/>
<text x="997.7" y="499.7" font-size="8.1" font-weight="normal" fill="#131722" textLength="20.1" lengthAdjust="spacingAndGlyphs" text-anchor="end">35.44</text>
<clipPath id="ct"><rect x="6.5" y="505" width="1011.0" height="19"/></clipPath>
<g clip-path="url(#ct)">
<text x="9.2" y="518.3" font-size="7.5" font-weight="bold" fill="#131722" text-anchor="middle">Apr</text>
<text x="136.7" y="518.3" font-size="7.5" font-weight="bold" fill="#131722" text-anchor="middle">May</text>
<text x="268.6" y="518.3" font-size="7.5" font-weight="bold" fill="#131722" text-anchor="middle">Jun</text>
<text x="396.1" y="518.3" font-size="7.5" font-weight="bold" fill="#131722" text-anchor="middle">Jul</text>
<text x="528.0" y="518.3" font-size="7.5" font-weight="bold" fill="#131722" text-anchor="middle">Aug</text>
<text x="659.8" y="518.3" font-size="7.5" font-weight="bold" fill="#131722" text-anchor="middle">Sep</text>
<text x="787.4" y="518.3" font-size="7.5" font-weight="bold" fill="#131722" text-anchor="middle">Oct</text>
<text x="919.2" y="518.3" font-size="7.5" font-weight="bold" fill="#131722" text-anchor="middle">Nov</text>
</g>
<circle cx="881.6" cy="371.5" r="6.1" fill="#fff" stroke="#A040C0" stroke-width="1.1"/>
<path d="M883.4,366.9 L879.4,372.3 L881.7,372.3 L880.1,376.3 L884.1,370.8 L881.8,370.8 Z" fill="#9C27B0"/>
<circle cx="885.7" cy="367.3" r="1.9" fill="#F23645"/>
<path d="M874.6,370.8 L875.4,372.8 L877.4,373.6 L875.4,374.4 L874.6,376.4 L873.8,374.4 L871.8,373.6 L873.8,372.8 Z" fill="#6E5BFF"/>
<clipPath id="fl0"><circle cx="898.0" cy="386.8" r="5.0"/></clipPath>
<circle cx="898.0" cy="386.8" r="6.1" fill="#fff" stroke="#F23645" stroke-width="1.1"/>
<g clip-path="url(#fl0)">
<rect x="892.0" y="383.0" width="12" height="1.4" fill="#F23645"/>
<rect x="892.0" y="386.4" width="12" height="1.4" fill="#F23645"/>
<rect x="892.0" y="389.8" width="12" height="1.4" fill="#F23645"/>
<rect x="892.0" y="381" width="6.0" height="5.4" fill="#3D7BE0"/>
</g>
<clipPath id="fl1"><circle cx="886.2" cy="386.8" r="5.0"/></clipPath>
<circle cx="886.2" cy="386.8" r="6.1" fill="#fff" stroke="#F23645" stroke-width="1.1"/>
<g clip-path="url(#fl1)">
<rect x="880.2" y="383.0" width="12" height="1.4" fill="#F23645"/>
<rect x="880.2" y="386.4" width="12" height="1.4" fill="#F23645"/>
<rect x="880.2" y="389.8" width="12" height="1.4" fill="#F23645"/>
<rect x="880.2" y="381" width="6.0" height="5.4" fill="#3D7BE0"/>
</g>
<clipPath id="fl2"><circle cx="880.2" cy="386.8" r="5.0"/></clipPath>
<circle cx="880.2" cy="386.8" r="6.1" fill="#fff" stroke="#F23645" stroke-width="1.1"/>
<g clip-path="url(#fl2)">
<rect x="874.2" y="383.0" width="12" height="1.4" fill="#F23645"/>
<rect x="874.2" y="386.4" width="12" height="1.4" fill="#F23645"/>
<rect x="874.2" y="389.8" width="12" height="1.4" fill="#F23645"/>
<rect x="874.2" y="381" width="6.0" height="5.4" fill="#3D7BE0"/>
</g>
<path d="M7.3,538 H14.6 V547 H10.9 V541.7 H7.3 Z" fill="#131722"/>
<circle cx="17.8" cy="539.6" r="1.6" fill="#131722"/>
<path d="M21.7,538 H25.5 L21.8,547 H18.2 Z" fill="#131722"/>
<text x="30.7" y="546.7" font-size="12.2" font-weight="bold" fill="#131722" textLength="73" lengthAdjust="spacingAndGlyphs">TradingView</text>
</svg></body></html>
